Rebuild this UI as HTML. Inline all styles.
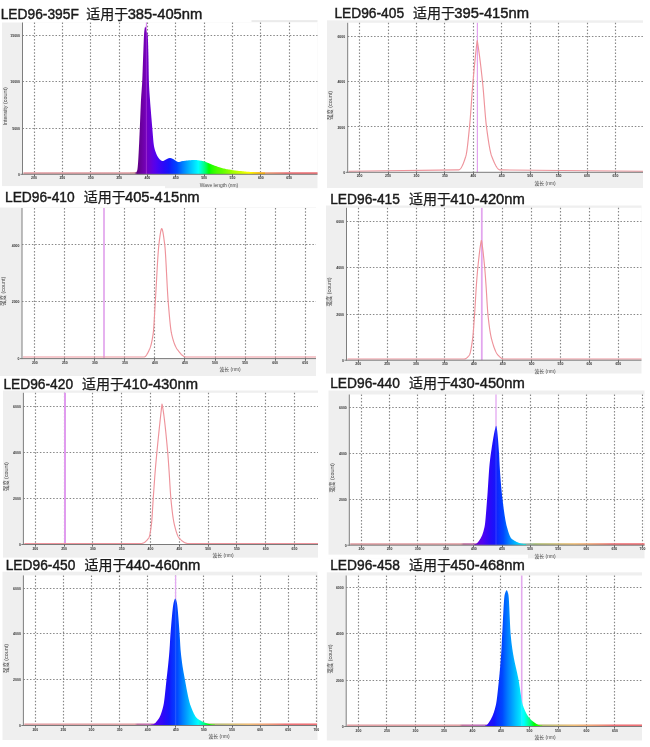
<!DOCTYPE html><html><head><meta charset="utf-8"><style>html,body{margin:0;padding:0;background:#fff;overflow:hidden}svg{display:block}</style></head><body>
<svg width="650" height="747" viewBox="0 0 650 747">
<style>.gd{stroke:#888;stroke-width:1.15;stroke-dasharray:1.5 1.8}.tk{font-family:"Liberation Sans",sans-serif;font-size:3.5px;font-weight:bold;fill:#333}.at{font-family:"Liberation Sans","Noto Sans CJK SC",sans-serif;font-size:4.9px;fill:#4a4a4a}.ax{font-family:"Liberation Sans","Noto Sans CJK SC",sans-serif;font-size:5.4px;fill:#4a4a4a}.tt{font-family:"Liberation Sans","Noto Sans CJK SC",sans-serif;font-size:15.4px;fill:#1a1a1a;stroke:#1a1a1a;stroke-width:0.45}.tc{font-family:"Liberation Sans","Noto Sans CJK SC",sans-serif;font-size:14px;fill:#1a1a1a;stroke:#1a1a1a;stroke-width:0.25}</style>
<defs><linearGradient id="sp0" gradientUnits="userSpaceOnUse" x1="107.71" y1="0" x2="374.2" y2="0"><stop offset="0" stop-color="rgb(212,160,160)"/><stop offset="0.01" stop-color="rgb(212,160,160)"/><stop offset="0.02" stop-color="rgb(212,160,160)"/><stop offset="0.03" stop-color="rgb(212,160,160)"/><stop offset="0.04" stop-color="rgb(212,160,160)"/><stop offset="0.05" stop-color="rgb(212,160,160)"/><stop offset="0.06" stop-color="rgb(212,160,160)"/><stop offset="0.07" stop-color="rgb(212,160,160)"/><stop offset="0.09" stop-color="rgb(212,160,160)"/><stop offset="0.1" stop-color="rgb(212,160,160)"/><stop offset="0.11" stop-color="rgb(95,0,130)"/><stop offset="0.12" stop-color="rgb(102,0,147)"/><stop offset="0.13" stop-color="rgb(109,0,165)"/><stop offset="0.14" stop-color="rgb(116,0,182)"/><stop offset="0.15" stop-color="rgb(110,0,197)"/><stop offset="0.16" stop-color="rgb(104,0,212)"/><stop offset="0.17" stop-color="rgb(94,0,228)"/><stop offset="0.18" stop-color="rgb(82,2,238)"/><stop offset="0.19" stop-color="rgb(68,4,245)"/><stop offset="0.2" stop-color="rgb(55,7,246)"/><stop offset="0.21" stop-color="rgb(42,10,248)"/><stop offset="0.22" stop-color="rgb(31,16,250)"/><stop offset="0.23" stop-color="rgb(20,22,252)"/><stop offset="0.24" stop-color="rgb(11,42,254)"/><stop offset="0.26" stop-color="rgb(0,70,255)"/><stop offset="0.27" stop-color="rgb(0,97,255)"/><stop offset="0.28" stop-color="rgb(0,123,255)"/><stop offset="0.29" stop-color="rgb(0,146,255)"/><stop offset="0.3" stop-color="rgb(0,169,255)"/><stop offset="0.31" stop-color="rgb(0,192,255)"/><stop offset="0.32" stop-color="rgb(0,213,255)"/><stop offset="0.33" stop-color="rgb(0,234,255)"/><stop offset="0.34" stop-color="rgb(0,255,255)"/><stop offset="0.35" stop-color="rgb(0,255,203)"/><stop offset="0.36" stop-color="rgb(0,255,146)"/><stop offset="0.37" stop-color="rgb(0,255,84)"/><stop offset="0.38" stop-color="rgb(0,255,0)"/><stop offset="0.39" stop-color="rgb(31,255,0)"/><stop offset="0.4" stop-color="rgb(54,255,0)"/><stop offset="0.41" stop-color="rgb(74,255,0)"/><stop offset="0.43" stop-color="rgb(94,255,0)"/><stop offset="0.44" stop-color="rgb(112,255,0)"/><stop offset="0.45" stop-color="rgb(129,255,0)"/><stop offset="0.46" stop-color="rgb(146,255,0)"/><stop offset="0.47" stop-color="rgb(163,255,0)"/><stop offset="0.48" stop-color="rgb(179,255,0)"/><stop offset="0.49" stop-color="rgb(195,255,0)"/><stop offset="0.5" stop-color="rgb(210,255,0)"/><stop offset="0.51" stop-color="rgb(225,255,0)"/><stop offset="0.52" stop-color="rgb(240,255,0)"/><stop offset="0.53" stop-color="rgb(255,255,0)"/><stop offset="0.54" stop-color="rgb(255,239,0)"/><stop offset="0.55" stop-color="rgb(255,223,0)"/><stop offset="0.56" stop-color="rgb(255,207,0)"/><stop offset="0.57" stop-color="rgb(255,190,0)"/><stop offset="0.59" stop-color="rgb(255,173,0)"/><stop offset="0.6" stop-color="rgb(255,155,0)"/><stop offset="0.61" stop-color="rgb(255,137,0)"/><stop offset="0.62" stop-color="rgb(255,119,0)"/><stop offset="0.63" stop-color="rgb(255,99,0)"/><stop offset="0.64" stop-color="rgb(255,79,0)"/><stop offset="0.65" stop-color="rgb(255,57,0)"/><stop offset="0.66" stop-color="rgb(255,33,0)"/><stop offset="0.67" stop-color="rgb(255,0,0)"/><stop offset="0.68" stop-color="rgb(255,0,0)"/><stop offset="0.69" stop-color="rgb(255,0,0)"/><stop offset="0.7" stop-color="rgb(255,0,0)"/><stop offset="0.71" stop-color="rgb(255,0,0)"/><stop offset="0.72" stop-color="rgb(255,0,0)"/><stop offset="0.73" stop-color="rgb(255,0,0)"/><stop offset="0.74" stop-color="rgb(255,0,0)"/><stop offset="0.76" stop-color="rgb(255,0,0)"/><stop offset="0.77" stop-color="rgb(255,0,0)"/><stop offset="0.78" stop-color="rgb(255,0,0)"/><stop offset="0.79" stop-color="rgb(255,0,0)"/><stop offset="0.8" stop-color="rgb(246,0,0)"/><stop offset="0.81" stop-color="rgb(237,0,0)"/><stop offset="0.82" stop-color="rgb(228,0,0)"/><stop offset="0.83" stop-color="rgb(219,0,0)"/><stop offset="0.84" stop-color="rgb(209,0,0)"/><stop offset="0.85" stop-color="rgb(200,0,0)"/><stop offset="0.86" stop-color="rgb(190,0,0)"/><stop offset="0.87" stop-color="rgb(181,0,0)"/><stop offset="0.88" stop-color="rgb(171,0,0)"/><stop offset="0.89" stop-color="rgb(161,0,0)"/><stop offset="0.9" stop-color="rgb(151,0,0)"/><stop offset="0.91" stop-color="rgb(141,0,0)"/><stop offset="0.93" stop-color="rgb(130,0,0)"/><stop offset="0.94" stop-color="rgb(119,0,0)"/><stop offset="0.95" stop-color="rgb(109,0,0)"/><stop offset="0.96" stop-color="rgb(97,0,0)"/><stop offset="0.97" stop-color="rgb(200,90,90)"/><stop offset="0.98" stop-color="rgb(200,90,90)"/><stop offset="0.99" stop-color="rgb(200,90,90)"/><stop offset="1" stop-color="rgb(200,90,90)"/></linearGradient><linearGradient id="sp1" gradientUnits="userSpaceOnUse" x1="433.52" y1="0" x2="700.76" y2="0"><stop offset="0" stop-color="rgb(212,160,160)"/><stop offset="0.01" stop-color="rgb(212,160,160)"/><stop offset="0.02" stop-color="rgb(212,160,160)"/><stop offset="0.03" stop-color="rgb(212,160,160)"/><stop offset="0.04" stop-color="rgb(212,160,160)"/><stop offset="0.05" stop-color="rgb(212,160,160)"/><stop offset="0.06" stop-color="rgb(212,160,160)"/><stop offset="0.07" stop-color="rgb(212,160,160)"/><stop offset="0.09" stop-color="rgb(212,160,160)"/><stop offset="0.1" stop-color="rgb(212,160,160)"/><stop offset="0.11" stop-color="rgb(95,0,130)"/><stop offset="0.12" stop-color="rgb(102,0,147)"/><stop offset="0.13" stop-color="rgb(109,0,165)"/><stop offset="0.14" stop-color="rgb(116,0,182)"/><stop offset="0.15" stop-color="rgb(110,0,197)"/><stop offset="0.16" stop-color="rgb(104,0,212)"/><stop offset="0.17" stop-color="rgb(94,0,228)"/><stop offset="0.18" stop-color="rgb(82,2,238)"/><stop offset="0.19" stop-color="rgb(68,4,245)"/><stop offset="0.2" stop-color="rgb(55,7,246)"/><stop offset="0.21" stop-color="rgb(42,10,248)"/><stop offset="0.22" stop-color="rgb(31,16,250)"/><stop offset="0.23" stop-color="rgb(20,22,252)"/><stop offset="0.24" stop-color="rgb(11,42,254)"/><stop offset="0.26" stop-color="rgb(0,70,255)"/><stop offset="0.27" stop-color="rgb(0,97,255)"/><stop offset="0.28" stop-color="rgb(0,123,255)"/><stop offset="0.29" stop-color="rgb(0,146,255)"/><stop offset="0.3" stop-color="rgb(0,169,255)"/><stop offset="0.31" stop-color="rgb(0,192,255)"/><stop offset="0.32" stop-color="rgb(0,213,255)"/><stop offset="0.33" stop-color="rgb(0,234,255)"/><stop offset="0.34" stop-color="rgb(0,255,255)"/><stop offset="0.35" stop-color="rgb(0,255,203)"/><stop offset="0.36" stop-color="rgb(0,255,146)"/><stop offset="0.37" stop-color="rgb(0,255,84)"/><stop offset="0.38" stop-color="rgb(0,255,0)"/><stop offset="0.39" stop-color="rgb(31,255,0)"/><stop offset="0.4" stop-color="rgb(54,255,0)"/><stop offset="0.41" stop-color="rgb(74,255,0)"/><stop offset="0.43" stop-color="rgb(94,255,0)"/><stop offset="0.44" stop-color="rgb(112,255,0)"/><stop offset="0.45" stop-color="rgb(129,255,0)"/><stop offset="0.46" stop-color="rgb(146,255,0)"/><stop offset="0.47" stop-color="rgb(163,255,0)"/><stop offset="0.48" stop-color="rgb(179,255,0)"/><stop offset="0.49" stop-color="rgb(195,255,0)"/><stop offset="0.5" stop-color="rgb(210,255,0)"/><stop offset="0.51" stop-color="rgb(225,255,0)"/><stop offset="0.52" stop-color="rgb(240,255,0)"/><stop offset="0.53" stop-color="rgb(255,255,0)"/><stop offset="0.54" stop-color="rgb(255,239,0)"/><stop offset="0.55" stop-color="rgb(255,223,0)"/><stop offset="0.56" stop-color="rgb(255,207,0)"/><stop offset="0.57" stop-color="rgb(255,190,0)"/><stop offset="0.59" stop-color="rgb(255,173,0)"/><stop offset="0.6" stop-color="rgb(255,155,0)"/><stop offset="0.61" stop-color="rgb(255,137,0)"/><stop offset="0.62" stop-color="rgb(255,119,0)"/><stop offset="0.63" stop-color="rgb(255,99,0)"/><stop offset="0.64" stop-color="rgb(255,79,0)"/><stop offset="0.65" stop-color="rgb(255,57,0)"/><stop offset="0.66" stop-color="rgb(255,33,0)"/><stop offset="0.67" stop-color="rgb(255,0,0)"/><stop offset="0.68" stop-color="rgb(255,0,0)"/><stop offset="0.69" stop-color="rgb(255,0,0)"/><stop offset="0.7" stop-color="rgb(255,0,0)"/><stop offset="0.71" stop-color="rgb(255,0,0)"/><stop offset="0.72" stop-color="rgb(255,0,0)"/><stop offset="0.73" stop-color="rgb(255,0,0)"/><stop offset="0.74" stop-color="rgb(255,0,0)"/><stop offset="0.76" stop-color="rgb(255,0,0)"/><stop offset="0.77" stop-color="rgb(255,0,0)"/><stop offset="0.78" stop-color="rgb(255,0,0)"/><stop offset="0.79" stop-color="rgb(255,0,0)"/><stop offset="0.8" stop-color="rgb(246,0,0)"/><stop offset="0.81" stop-color="rgb(237,0,0)"/><stop offset="0.82" stop-color="rgb(228,0,0)"/><stop offset="0.83" stop-color="rgb(219,0,0)"/><stop offset="0.84" stop-color="rgb(209,0,0)"/><stop offset="0.85" stop-color="rgb(200,0,0)"/><stop offset="0.86" stop-color="rgb(190,0,0)"/><stop offset="0.87" stop-color="rgb(181,0,0)"/><stop offset="0.88" stop-color="rgb(171,0,0)"/><stop offset="0.89" stop-color="rgb(161,0,0)"/><stop offset="0.9" stop-color="rgb(151,0,0)"/><stop offset="0.91" stop-color="rgb(141,0,0)"/><stop offset="0.93" stop-color="rgb(130,0,0)"/><stop offset="0.94" stop-color="rgb(119,0,0)"/><stop offset="0.95" stop-color="rgb(109,0,0)"/><stop offset="0.96" stop-color="rgb(97,0,0)"/><stop offset="0.97" stop-color="rgb(200,90,90)"/><stop offset="0.98" stop-color="rgb(200,90,90)"/><stop offset="0.99" stop-color="rgb(200,90,90)"/><stop offset="1" stop-color="rgb(200,90,90)"/></linearGradient><linearGradient id="sp2" gradientUnits="userSpaceOnUse" x1="112.9" y1="0" x2="395.28" y2="0"><stop offset="0" stop-color="rgb(212,160,160)"/><stop offset="0.01" stop-color="rgb(212,160,160)"/><stop offset="0.02" stop-color="rgb(212,160,160)"/><stop offset="0.03" stop-color="rgb(212,160,160)"/><stop offset="0.04" stop-color="rgb(212,160,160)"/><stop offset="0.05" stop-color="rgb(212,160,160)"/><stop offset="0.06" stop-color="rgb(212,160,160)"/><stop offset="0.07" stop-color="rgb(212,160,160)"/><stop offset="0.09" stop-color="rgb(212,160,160)"/><stop offset="0.1" stop-color="rgb(212,160,160)"/><stop offset="0.11" stop-color="rgb(95,0,130)"/><stop offset="0.12" stop-color="rgb(102,0,147)"/><stop offset="0.13" stop-color="rgb(109,0,165)"/><stop offset="0.14" stop-color="rgb(116,0,182)"/><stop offset="0.15" stop-color="rgb(110,0,197)"/><stop offset="0.16" stop-color="rgb(104,0,212)"/><stop offset="0.17" stop-color="rgb(94,0,228)"/><stop offset="0.18" stop-color="rgb(82,2,238)"/><stop offset="0.19" stop-color="rgb(68,4,245)"/><stop offset="0.2" stop-color="rgb(55,7,246)"/><stop offset="0.21" stop-color="rgb(42,10,248)"/><stop offset="0.22" stop-color="rgb(31,16,250)"/><stop offset="0.23" stop-color="rgb(20,22,252)"/><stop offset="0.24" stop-color="rgb(11,42,254)"/><stop offset="0.26" stop-color="rgb(0,70,255)"/><stop offset="0.27" stop-color="rgb(0,97,255)"/><stop offset="0.28" stop-color="rgb(0,123,255)"/><stop offset="0.29" stop-color="rgb(0,146,255)"/><stop offset="0.3" stop-color="rgb(0,169,255)"/><stop offset="0.31" stop-color="rgb(0,192,255)"/><stop offset="0.32" stop-color="rgb(0,213,255)"/><stop offset="0.33" stop-color="rgb(0,234,255)"/><stop offset="0.34" stop-color="rgb(0,255,255)"/><stop offset="0.35" stop-color="rgb(0,255,203)"/><stop offset="0.36" stop-color="rgb(0,255,146)"/><stop offset="0.37" stop-color="rgb(0,255,84)"/><stop offset="0.38" stop-color="rgb(0,255,0)"/><stop offset="0.39" stop-color="rgb(31,255,0)"/><stop offset="0.4" stop-color="rgb(54,255,0)"/><stop offset="0.41" stop-color="rgb(74,255,0)"/><stop offset="0.43" stop-color="rgb(94,255,0)"/><stop offset="0.44" stop-color="rgb(112,255,0)"/><stop offset="0.45" stop-color="rgb(129,255,0)"/><stop offset="0.46" stop-color="rgb(146,255,0)"/><stop offset="0.47" stop-color="rgb(163,255,0)"/><stop offset="0.48" stop-color="rgb(179,255,0)"/><stop offset="0.49" stop-color="rgb(195,255,0)"/><stop offset="0.5" stop-color="rgb(210,255,0)"/><stop offset="0.51" stop-color="rgb(225,255,0)"/><stop offset="0.52" stop-color="rgb(240,255,0)"/><stop offset="0.53" stop-color="rgb(255,255,0)"/><stop offset="0.54" stop-color="rgb(255,239,0)"/><stop offset="0.55" stop-color="rgb(255,223,0)"/><stop offset="0.56" stop-color="rgb(255,207,0)"/><stop offset="0.57" stop-color="rgb(255,190,0)"/><stop offset="0.59" stop-color="rgb(255,173,0)"/><stop offset="0.6" stop-color="rgb(255,155,0)"/><stop offset="0.61" stop-color="rgb(255,137,0)"/><stop offset="0.62" stop-color="rgb(255,119,0)"/><stop offset="0.63" stop-color="rgb(255,99,0)"/><stop offset="0.64" stop-color="rgb(255,79,0)"/><stop offset="0.65" stop-color="rgb(255,57,0)"/><stop offset="0.66" stop-color="rgb(255,33,0)"/><stop offset="0.67" stop-color="rgb(255,0,0)"/><stop offset="0.68" stop-color="rgb(255,0,0)"/><stop offset="0.69" stop-color="rgb(255,0,0)"/><stop offset="0.7" stop-color="rgb(255,0,0)"/><stop offset="0.71" stop-color="rgb(255,0,0)"/><stop offset="0.72" stop-color="rgb(255,0,0)"/><stop offset="0.73" stop-color="rgb(255,0,0)"/><stop offset="0.74" stop-color="rgb(255,0,0)"/><stop offset="0.76" stop-color="rgb(255,0,0)"/><stop offset="0.77" stop-color="rgb(255,0,0)"/><stop offset="0.78" stop-color="rgb(255,0,0)"/><stop offset="0.79" stop-color="rgb(255,0,0)"/><stop offset="0.8" stop-color="rgb(246,0,0)"/><stop offset="0.81" stop-color="rgb(237,0,0)"/><stop offset="0.82" stop-color="rgb(228,0,0)"/><stop offset="0.83" stop-color="rgb(219,0,0)"/><stop offset="0.84" stop-color="rgb(209,0,0)"/><stop offset="0.85" stop-color="rgb(200,0,0)"/><stop offset="0.86" stop-color="rgb(190,0,0)"/><stop offset="0.87" stop-color="rgb(181,0,0)"/><stop offset="0.88" stop-color="rgb(171,0,0)"/><stop offset="0.89" stop-color="rgb(161,0,0)"/><stop offset="0.9" stop-color="rgb(151,0,0)"/><stop offset="0.91" stop-color="rgb(141,0,0)"/><stop offset="0.93" stop-color="rgb(130,0,0)"/><stop offset="0.94" stop-color="rgb(119,0,0)"/><stop offset="0.95" stop-color="rgb(109,0,0)"/><stop offset="0.96" stop-color="rgb(97,0,0)"/><stop offset="0.97" stop-color="rgb(200,90,90)"/><stop offset="0.98" stop-color="rgb(200,90,90)"/><stop offset="0.99" stop-color="rgb(200,90,90)"/><stop offset="1" stop-color="rgb(200,90,90)"/></linearGradient><linearGradient id="sp3" gradientUnits="userSpaceOnUse" x1="433.34" y1="0" x2="705" y2="0"><stop offset="0" stop-color="rgb(212,160,160)"/><stop offset="0.01" stop-color="rgb(212,160,160)"/><stop offset="0.02" stop-color="rgb(212,160,160)"/><stop offset="0.03" stop-color="rgb(212,160,160)"/><stop offset="0.04" stop-color="rgb(212,160,160)"/><stop offset="0.05" stop-color="rgb(212,160,160)"/><stop offset="0.06" stop-color="rgb(212,160,160)"/><stop offset="0.07" stop-color="rgb(212,160,160)"/><stop offset="0.09" stop-color="rgb(212,160,160)"/><stop offset="0.1" stop-color="rgb(212,160,160)"/><stop offset="0.11" stop-color="rgb(95,0,130)"/><stop offset="0.12" stop-color="rgb(102,0,147)"/><stop offset="0.13" stop-color="rgb(109,0,165)"/><stop offset="0.14" stop-color="rgb(116,0,182)"/><stop offset="0.15" stop-color="rgb(110,0,197)"/><stop offset="0.16" stop-color="rgb(104,0,212)"/><stop offset="0.17" stop-color="rgb(94,0,228)"/><stop offset="0.18" stop-color="rgb(82,2,238)"/><stop offset="0.19" stop-color="rgb(68,4,245)"/><stop offset="0.2" stop-color="rgb(55,7,246)"/><stop offset="0.21" stop-color="rgb(42,10,248)"/><stop offset="0.22" stop-color="rgb(31,16,250)"/><stop offset="0.23" stop-color="rgb(20,22,252)"/><stop offset="0.24" stop-color="rgb(11,42,254)"/><stop offset="0.26" stop-color="rgb(0,70,255)"/><stop offset="0.27" stop-color="rgb(0,97,255)"/><stop offset="0.28" stop-color="rgb(0,123,255)"/><stop offset="0.29" stop-color="rgb(0,146,255)"/><stop offset="0.3" stop-color="rgb(0,169,255)"/><stop offset="0.31" stop-color="rgb(0,192,255)"/><stop offset="0.32" stop-color="rgb(0,213,255)"/><stop offset="0.33" stop-color="rgb(0,234,255)"/><stop offset="0.34" stop-color="rgb(0,255,255)"/><stop offset="0.35" stop-color="rgb(0,255,203)"/><stop offset="0.36" stop-color="rgb(0,255,146)"/><stop offset="0.37" stop-color="rgb(0,255,84)"/><stop offset="0.38" stop-color="rgb(0,255,0)"/><stop offset="0.39" stop-color="rgb(31,255,0)"/><stop offset="0.4" stop-color="rgb(54,255,0)"/><stop offset="0.41" stop-color="rgb(74,255,0)"/><stop offset="0.43" stop-color="rgb(94,255,0)"/><stop offset="0.44" stop-color="rgb(112,255,0)"/><stop offset="0.45" stop-color="rgb(129,255,0)"/><stop offset="0.46" stop-color="rgb(146,255,0)"/><stop offset="0.47" stop-color="rgb(163,255,0)"/><stop offset="0.48" stop-color="rgb(179,255,0)"/><stop offset="0.49" stop-color="rgb(195,255,0)"/><stop offset="0.5" stop-color="rgb(210,255,0)"/><stop offset="0.51" stop-color="rgb(225,255,0)"/><stop offset="0.52" stop-color="rgb(240,255,0)"/><stop offset="0.53" stop-color="rgb(255,255,0)"/><stop offset="0.54" stop-color="rgb(255,239,0)"/><stop offset="0.55" stop-color="rgb(255,223,0)"/><stop offset="0.56" stop-color="rgb(255,207,0)"/><stop offset="0.57" stop-color="rgb(255,190,0)"/><stop offset="0.59" stop-color="rgb(255,173,0)"/><stop offset="0.6" stop-color="rgb(255,155,0)"/><stop offset="0.61" stop-color="rgb(255,137,0)"/><stop offset="0.62" stop-color="rgb(255,119,0)"/><stop offset="0.63" stop-color="rgb(255,99,0)"/><stop offset="0.64" stop-color="rgb(255,79,0)"/><stop offset="0.65" stop-color="rgb(255,57,0)"/><stop offset="0.66" stop-color="rgb(255,33,0)"/><stop offset="0.67" stop-color="rgb(255,0,0)"/><stop offset="0.68" stop-color="rgb(255,0,0)"/><stop offset="0.69" stop-color="rgb(255,0,0)"/><stop offset="0.7" stop-color="rgb(255,0,0)"/><stop offset="0.71" stop-color="rgb(255,0,0)"/><stop offset="0.72" stop-color="rgb(255,0,0)"/><stop offset="0.73" stop-color="rgb(255,0,0)"/><stop offset="0.74" stop-color="rgb(255,0,0)"/><stop offset="0.76" stop-color="rgb(255,0,0)"/><stop offset="0.77" stop-color="rgb(255,0,0)"/><stop offset="0.78" stop-color="rgb(255,0,0)"/><stop offset="0.79" stop-color="rgb(255,0,0)"/><stop offset="0.8" stop-color="rgb(246,0,0)"/><stop offset="0.81" stop-color="rgb(237,0,0)"/><stop offset="0.82" stop-color="rgb(228,0,0)"/><stop offset="0.83" stop-color="rgb(219,0,0)"/><stop offset="0.84" stop-color="rgb(209,0,0)"/><stop offset="0.85" stop-color="rgb(200,0,0)"/><stop offset="0.86" stop-color="rgb(190,0,0)"/><stop offset="0.87" stop-color="rgb(181,0,0)"/><stop offset="0.88" stop-color="rgb(171,0,0)"/><stop offset="0.89" stop-color="rgb(161,0,0)"/><stop offset="0.9" stop-color="rgb(151,0,0)"/><stop offset="0.91" stop-color="rgb(141,0,0)"/><stop offset="0.93" stop-color="rgb(130,0,0)"/><stop offset="0.94" stop-color="rgb(119,0,0)"/><stop offset="0.95" stop-color="rgb(109,0,0)"/><stop offset="0.96" stop-color="rgb(97,0,0)"/><stop offset="0.97" stop-color="rgb(200,90,90)"/><stop offset="0.98" stop-color="rgb(200,90,90)"/><stop offset="0.99" stop-color="rgb(200,90,90)"/><stop offset="1" stop-color="rgb(200,90,90)"/></linearGradient><linearGradient id="sp4" gradientUnits="userSpaceOnUse" x1="110.18" y1="0" x2="380.9" y2="0"><stop offset="0" stop-color="rgb(212,160,160)"/><stop offset="0.01" stop-color="rgb(212,160,160)"/><stop offset="0.02" stop-color="rgb(212,160,160)"/><stop offset="0.03" stop-color="rgb(212,160,160)"/><stop offset="0.04" stop-color="rgb(212,160,160)"/><stop offset="0.05" stop-color="rgb(212,160,160)"/><stop offset="0.06" stop-color="rgb(212,160,160)"/><stop offset="0.07" stop-color="rgb(212,160,160)"/><stop offset="0.09" stop-color="rgb(212,160,160)"/><stop offset="0.1" stop-color="rgb(212,160,160)"/><stop offset="0.11" stop-color="rgb(95,0,130)"/><stop offset="0.12" stop-color="rgb(102,0,147)"/><stop offset="0.13" stop-color="rgb(109,0,165)"/><stop offset="0.14" stop-color="rgb(116,0,182)"/><stop offset="0.15" stop-color="rgb(110,0,197)"/><stop offset="0.16" stop-color="rgb(104,0,212)"/><stop offset="0.17" stop-color="rgb(94,0,228)"/><stop offset="0.18" stop-color="rgb(82,2,238)"/><stop offset="0.19" stop-color="rgb(68,4,245)"/><stop offset="0.2" stop-color="rgb(55,7,246)"/><stop offset="0.21" stop-color="rgb(42,10,248)"/><stop offset="0.22" stop-color="rgb(31,16,250)"/><stop offset="0.23" stop-color="rgb(20,22,252)"/><stop offset="0.24" stop-color="rgb(11,42,254)"/><stop offset="0.26" stop-color="rgb(0,70,255)"/><stop offset="0.27" stop-color="rgb(0,97,255)"/><stop offset="0.28" stop-color="rgb(0,123,255)"/><stop offset="0.29" stop-color="rgb(0,146,255)"/><stop offset="0.3" stop-color="rgb(0,169,255)"/><stop offset="0.31" stop-color="rgb(0,192,255)"/><stop offset="0.32" stop-color="rgb(0,213,255)"/><stop offset="0.33" stop-color="rgb(0,234,255)"/><stop offset="0.34" stop-color="rgb(0,255,255)"/><stop offset="0.35" stop-color="rgb(0,255,203)"/><stop offset="0.36" stop-color="rgb(0,255,146)"/><stop offset="0.37" stop-color="rgb(0,255,84)"/><stop offset="0.38" stop-color="rgb(0,255,0)"/><stop offset="0.39" stop-color="rgb(31,255,0)"/><stop offset="0.4" stop-color="rgb(54,255,0)"/><stop offset="0.41" stop-color="rgb(74,255,0)"/><stop offset="0.43" stop-color="rgb(94,255,0)"/><stop offset="0.44" stop-color="rgb(112,255,0)"/><stop offset="0.45" stop-color="rgb(129,255,0)"/><stop offset="0.46" stop-color="rgb(146,255,0)"/><stop offset="0.47" stop-color="rgb(163,255,0)"/><stop offset="0.48" stop-color="rgb(179,255,0)"/><stop offset="0.49" stop-color="rgb(195,255,0)"/><stop offset="0.5" stop-color="rgb(210,255,0)"/><stop offset="0.51" stop-color="rgb(225,255,0)"/><stop offset="0.52" stop-color="rgb(240,255,0)"/><stop offset="0.53" stop-color="rgb(255,255,0)"/><stop offset="0.54" stop-color="rgb(255,239,0)"/><stop offset="0.55" stop-color="rgb(255,223,0)"/><stop offset="0.56" stop-color="rgb(255,207,0)"/><stop offset="0.57" stop-color="rgb(255,190,0)"/><stop offset="0.59" stop-color="rgb(255,173,0)"/><stop offset="0.6" stop-color="rgb(255,155,0)"/><stop offset="0.61" stop-color="rgb(255,137,0)"/><stop offset="0.62" stop-color="rgb(255,119,0)"/><stop offset="0.63" stop-color="rgb(255,99,0)"/><stop offset="0.64" stop-color="rgb(255,79,0)"/><stop offset="0.65" stop-color="rgb(255,57,0)"/><stop offset="0.66" stop-color="rgb(255,33,0)"/><stop offset="0.67" stop-color="rgb(255,0,0)"/><stop offset="0.68" stop-color="rgb(255,0,0)"/><stop offset="0.69" stop-color="rgb(255,0,0)"/><stop offset="0.7" stop-color="rgb(255,0,0)"/><stop offset="0.71" stop-color="rgb(255,0,0)"/><stop offset="0.72" stop-color="rgb(255,0,0)"/><stop offset="0.73" stop-color="rgb(255,0,0)"/><stop offset="0.74" stop-color="rgb(255,0,0)"/><stop offset="0.76" stop-color="rgb(255,0,0)"/><stop offset="0.77" stop-color="rgb(255,0,0)"/><stop offset="0.78" stop-color="rgb(255,0,0)"/><stop offset="0.79" stop-color="rgb(255,0,0)"/><stop offset="0.8" stop-color="rgb(246,0,0)"/><stop offset="0.81" stop-color="rgb(237,0,0)"/><stop offset="0.82" stop-color="rgb(228,0,0)"/><stop offset="0.83" stop-color="rgb(219,0,0)"/><stop offset="0.84" stop-color="rgb(209,0,0)"/><stop offset="0.85" stop-color="rgb(200,0,0)"/><stop offset="0.86" stop-color="rgb(190,0,0)"/><stop offset="0.87" stop-color="rgb(181,0,0)"/><stop offset="0.88" stop-color="rgb(171,0,0)"/><stop offset="0.89" stop-color="rgb(161,0,0)"/><stop offset="0.9" stop-color="rgb(151,0,0)"/><stop offset="0.91" stop-color="rgb(141,0,0)"/><stop offset="0.93" stop-color="rgb(130,0,0)"/><stop offset="0.94" stop-color="rgb(119,0,0)"/><stop offset="0.95" stop-color="rgb(109,0,0)"/><stop offset="0.96" stop-color="rgb(97,0,0)"/><stop offset="0.97" stop-color="rgb(200,90,90)"/><stop offset="0.98" stop-color="rgb(200,90,90)"/><stop offset="0.99" stop-color="rgb(200,90,90)"/><stop offset="1" stop-color="rgb(200,90,90)"/></linearGradient><linearGradient id="sp5" gradientUnits="userSpaceOnUse" x1="434.56" y1="0" x2="698.7" y2="0"><stop offset="0" stop-color="rgb(212,160,160)"/><stop offset="0.01" stop-color="rgb(212,160,160)"/><stop offset="0.02" stop-color="rgb(212,160,160)"/><stop offset="0.03" stop-color="rgb(212,160,160)"/><stop offset="0.04" stop-color="rgb(212,160,160)"/><stop offset="0.05" stop-color="rgb(212,160,160)"/><stop offset="0.06" stop-color="rgb(212,160,160)"/><stop offset="0.07" stop-color="rgb(212,160,160)"/><stop offset="0.09" stop-color="rgb(212,160,160)"/><stop offset="0.1" stop-color="rgb(212,160,160)"/><stop offset="0.11" stop-color="rgb(95,0,130)"/><stop offset="0.12" stop-color="rgb(102,0,147)"/><stop offset="0.13" stop-color="rgb(109,0,165)"/><stop offset="0.14" stop-color="rgb(116,0,182)"/><stop offset="0.15" stop-color="rgb(110,0,197)"/><stop offset="0.16" stop-color="rgb(104,0,212)"/><stop offset="0.17" stop-color="rgb(94,0,228)"/><stop offset="0.18" stop-color="rgb(82,2,238)"/><stop offset="0.19" stop-color="rgb(68,4,245)"/><stop offset="0.2" stop-color="rgb(55,7,246)"/><stop offset="0.21" stop-color="rgb(42,10,248)"/><stop offset="0.22" stop-color="rgb(31,16,250)"/><stop offset="0.23" stop-color="rgb(20,22,252)"/><stop offset="0.24" stop-color="rgb(11,42,254)"/><stop offset="0.26" stop-color="rgb(0,70,255)"/><stop offset="0.27" stop-color="rgb(0,97,255)"/><stop offset="0.28" stop-color="rgb(0,123,255)"/><stop offset="0.29" stop-color="rgb(0,146,255)"/><stop offset="0.3" stop-color="rgb(0,169,255)"/><stop offset="0.31" stop-color="rgb(0,192,255)"/><stop offset="0.32" stop-color="rgb(0,213,255)"/><stop offset="0.33" stop-color="rgb(0,234,255)"/><stop offset="0.34" stop-color="rgb(0,255,255)"/><stop offset="0.35" stop-color="rgb(0,255,203)"/><stop offset="0.36" stop-color="rgb(0,255,146)"/><stop offset="0.37" stop-color="rgb(0,255,84)"/><stop offset="0.38" stop-color="rgb(0,255,0)"/><stop offset="0.39" stop-color="rgb(31,255,0)"/><stop offset="0.4" stop-color="rgb(54,255,0)"/><stop offset="0.41" stop-color="rgb(74,255,0)"/><stop offset="0.43" stop-color="rgb(94,255,0)"/><stop offset="0.44" stop-color="rgb(112,255,0)"/><stop offset="0.45" stop-color="rgb(129,255,0)"/><stop offset="0.46" stop-color="rgb(146,255,0)"/><stop offset="0.47" stop-color="rgb(163,255,0)"/><stop offset="0.48" stop-color="rgb(179,255,0)"/><stop offset="0.49" stop-color="rgb(195,255,0)"/><stop offset="0.5" stop-color="rgb(210,255,0)"/><stop offset="0.51" stop-color="rgb(225,255,0)"/><stop offset="0.52" stop-color="rgb(240,255,0)"/><stop offset="0.53" stop-color="rgb(255,255,0)"/><stop offset="0.54" stop-color="rgb(255,239,0)"/><stop offset="0.55" stop-color="rgb(255,223,0)"/><stop offset="0.56" stop-color="rgb(255,207,0)"/><stop offset="0.57" stop-color="rgb(255,190,0)"/><stop offset="0.59" stop-color="rgb(255,173,0)"/><stop offset="0.6" stop-color="rgb(255,155,0)"/><stop offset="0.61" stop-color="rgb(255,137,0)"/><stop offset="0.62" stop-color="rgb(255,119,0)"/><stop offset="0.63" stop-color="rgb(255,99,0)"/><stop offset="0.64" stop-color="rgb(255,79,0)"/><stop offset="0.65" stop-color="rgb(255,57,0)"/><stop offset="0.66" stop-color="rgb(255,33,0)"/><stop offset="0.67" stop-color="rgb(255,0,0)"/><stop offset="0.68" stop-color="rgb(255,0,0)"/><stop offset="0.69" stop-color="rgb(255,0,0)"/><stop offset="0.7" stop-color="rgb(255,0,0)"/><stop offset="0.71" stop-color="rgb(255,0,0)"/><stop offset="0.72" stop-color="rgb(255,0,0)"/><stop offset="0.73" stop-color="rgb(255,0,0)"/><stop offset="0.74" stop-color="rgb(255,0,0)"/><stop offset="0.76" stop-color="rgb(255,0,0)"/><stop offset="0.77" stop-color="rgb(255,0,0)"/><stop offset="0.78" stop-color="rgb(255,0,0)"/><stop offset="0.79" stop-color="rgb(255,0,0)"/><stop offset="0.8" stop-color="rgb(246,0,0)"/><stop offset="0.81" stop-color="rgb(237,0,0)"/><stop offset="0.82" stop-color="rgb(228,0,0)"/><stop offset="0.83" stop-color="rgb(219,0,0)"/><stop offset="0.84" stop-color="rgb(209,0,0)"/><stop offset="0.85" stop-color="rgb(200,0,0)"/><stop offset="0.86" stop-color="rgb(190,0,0)"/><stop offset="0.87" stop-color="rgb(181,0,0)"/><stop offset="0.88" stop-color="rgb(171,0,0)"/><stop offset="0.89" stop-color="rgb(161,0,0)"/><stop offset="0.9" stop-color="rgb(151,0,0)"/><stop offset="0.91" stop-color="rgb(141,0,0)"/><stop offset="0.93" stop-color="rgb(130,0,0)"/><stop offset="0.94" stop-color="rgb(119,0,0)"/><stop offset="0.95" stop-color="rgb(109,0,0)"/><stop offset="0.96" stop-color="rgb(97,0,0)"/><stop offset="0.97" stop-color="rgb(200,90,90)"/><stop offset="0.98" stop-color="rgb(200,90,90)"/><stop offset="0.99" stop-color="rgb(200,90,90)"/><stop offset="1" stop-color="rgb(200,90,90)"/></linearGradient><linearGradient id="sp6" gradientUnits="userSpaceOnUse" x1="108.36" y1="0" x2="372.5" y2="0"><stop offset="0" stop-color="rgb(212,160,160)"/><stop offset="0.01" stop-color="rgb(212,160,160)"/><stop offset="0.02" stop-color="rgb(212,160,160)"/><stop offset="0.03" stop-color="rgb(212,160,160)"/><stop offset="0.04" stop-color="rgb(212,160,160)"/><stop offset="0.05" stop-color="rgb(212,160,160)"/><stop offset="0.06" stop-color="rgb(212,160,160)"/><stop offset="0.07" stop-color="rgb(212,160,160)"/><stop offset="0.09" stop-color="rgb(212,160,160)"/><stop offset="0.1" stop-color="rgb(212,160,160)"/><stop offset="0.11" stop-color="rgb(95,0,130)"/><stop offset="0.12" stop-color="rgb(102,0,147)"/><stop offset="0.13" stop-color="rgb(109,0,165)"/><stop offset="0.14" stop-color="rgb(116,0,182)"/><stop offset="0.15" stop-color="rgb(110,0,197)"/><stop offset="0.16" stop-color="rgb(104,0,212)"/><stop offset="0.17" stop-color="rgb(94,0,228)"/><stop offset="0.18" stop-color="rgb(82,2,238)"/><stop offset="0.19" stop-color="rgb(68,4,245)"/><stop offset="0.2" stop-color="rgb(55,7,246)"/><stop offset="0.21" stop-color="rgb(42,10,248)"/><stop offset="0.22" stop-color="rgb(31,16,250)"/><stop offset="0.23" stop-color="rgb(20,22,252)"/><stop offset="0.24" stop-color="rgb(11,42,254)"/><stop offset="0.26" stop-color="rgb(0,70,255)"/><stop offset="0.27" stop-color="rgb(0,97,255)"/><stop offset="0.28" stop-color="rgb(0,123,255)"/><stop offset="0.29" stop-color="rgb(0,146,255)"/><stop offset="0.3" stop-color="rgb(0,169,255)"/><stop offset="0.31" stop-color="rgb(0,192,255)"/><stop offset="0.32" stop-color="rgb(0,213,255)"/><stop offset="0.33" stop-color="rgb(0,234,255)"/><stop offset="0.34" stop-color="rgb(0,255,255)"/><stop offset="0.35" stop-color="rgb(0,255,203)"/><stop offset="0.36" stop-color="rgb(0,255,146)"/><stop offset="0.37" stop-color="rgb(0,255,84)"/><stop offset="0.38" stop-color="rgb(0,255,0)"/><stop offset="0.39" stop-color="rgb(31,255,0)"/><stop offset="0.4" stop-color="rgb(54,255,0)"/><stop offset="0.41" stop-color="rgb(74,255,0)"/><stop offset="0.43" stop-color="rgb(94,255,0)"/><stop offset="0.44" stop-color="rgb(112,255,0)"/><stop offset="0.45" stop-color="rgb(129,255,0)"/><stop offset="0.46" stop-color="rgb(146,255,0)"/><stop offset="0.47" stop-color="rgb(163,255,0)"/><stop offset="0.48" stop-color="rgb(179,255,0)"/><stop offset="0.49" stop-color="rgb(195,255,0)"/><stop offset="0.5" stop-color="rgb(210,255,0)"/><stop offset="0.51" stop-color="rgb(225,255,0)"/><stop offset="0.52" stop-color="rgb(240,255,0)"/><stop offset="0.53" stop-color="rgb(255,255,0)"/><stop offset="0.54" stop-color="rgb(255,239,0)"/><stop offset="0.55" stop-color="rgb(255,223,0)"/><stop offset="0.56" stop-color="rgb(255,207,0)"/><stop offset="0.57" stop-color="rgb(255,190,0)"/><stop offset="0.59" stop-color="rgb(255,173,0)"/><stop offset="0.6" stop-color="rgb(255,155,0)"/><stop offset="0.61" stop-color="rgb(255,137,0)"/><stop offset="0.62" stop-color="rgb(255,119,0)"/><stop offset="0.63" stop-color="rgb(255,99,0)"/><stop offset="0.64" stop-color="rgb(255,79,0)"/><stop offset="0.65" stop-color="rgb(255,57,0)"/><stop offset="0.66" stop-color="rgb(255,33,0)"/><stop offset="0.67" stop-color="rgb(255,0,0)"/><stop offset="0.68" stop-color="rgb(255,0,0)"/><stop offset="0.69" stop-color="rgb(255,0,0)"/><stop offset="0.7" stop-color="rgb(255,0,0)"/><stop offset="0.71" stop-color="rgb(255,0,0)"/><stop offset="0.72" stop-color="rgb(255,0,0)"/><stop offset="0.73" stop-color="rgb(255,0,0)"/><stop offset="0.74" stop-color="rgb(255,0,0)"/><stop offset="0.76" stop-color="rgb(255,0,0)"/><stop offset="0.77" stop-color="rgb(255,0,0)"/><stop offset="0.78" stop-color="rgb(255,0,0)"/><stop offset="0.79" stop-color="rgb(255,0,0)"/><stop offset="0.8" stop-color="rgb(246,0,0)"/><stop offset="0.81" stop-color="rgb(237,0,0)"/><stop offset="0.82" stop-color="rgb(228,0,0)"/><stop offset="0.83" stop-color="rgb(219,0,0)"/><stop offset="0.84" stop-color="rgb(209,0,0)"/><stop offset="0.85" stop-color="rgb(200,0,0)"/><stop offset="0.86" stop-color="rgb(190,0,0)"/><stop offset="0.87" stop-color="rgb(181,0,0)"/><stop offset="0.88" stop-color="rgb(171,0,0)"/><stop offset="0.89" stop-color="rgb(161,0,0)"/><stop offset="0.9" stop-color="rgb(151,0,0)"/><stop offset="0.91" stop-color="rgb(141,0,0)"/><stop offset="0.93" stop-color="rgb(130,0,0)"/><stop offset="0.94" stop-color="rgb(119,0,0)"/><stop offset="0.95" stop-color="rgb(109,0,0)"/><stop offset="0.96" stop-color="rgb(97,0,0)"/><stop offset="0.97" stop-color="rgb(200,90,90)"/><stop offset="0.98" stop-color="rgb(200,90,90)"/><stop offset="0.99" stop-color="rgb(200,90,90)"/><stop offset="1" stop-color="rgb(200,90,90)"/></linearGradient><linearGradient id="sp7" gradientUnits="userSpaceOnUse" x1="432.6" y1="0" x2="700.5" y2="0"><stop offset="0" stop-color="rgb(212,160,160)"/><stop offset="0.01" stop-color="rgb(212,160,160)"/><stop offset="0.02" stop-color="rgb(212,160,160)"/><stop offset="0.03" stop-color="rgb(212,160,160)"/><stop offset="0.04" stop-color="rgb(212,160,160)"/><stop offset="0.05" stop-color="rgb(212,160,160)"/><stop offset="0.06" stop-color="rgb(212,160,160)"/><stop offset="0.07" stop-color="rgb(212,160,160)"/><stop offset="0.09" stop-color="rgb(212,160,160)"/><stop offset="0.1" stop-color="rgb(212,160,160)"/><stop offset="0.11" stop-color="rgb(95,0,130)"/><stop offset="0.12" stop-color="rgb(102,0,147)"/><stop offset="0.13" stop-color="rgb(109,0,165)"/><stop offset="0.14" stop-color="rgb(116,0,182)"/><stop offset="0.15" stop-color="rgb(110,0,197)"/><stop offset="0.16" stop-color="rgb(104,0,212)"/><stop offset="0.17" stop-color="rgb(94,0,228)"/><stop offset="0.18" stop-color="rgb(82,2,238)"/><stop offset="0.19" stop-color="rgb(68,4,245)"/><stop offset="0.2" stop-color="rgb(55,7,246)"/><stop offset="0.21" stop-color="rgb(42,10,248)"/><stop offset="0.22" stop-color="rgb(31,16,250)"/><stop offset="0.23" stop-color="rgb(20,22,252)"/><stop offset="0.24" stop-color="rgb(11,42,254)"/><stop offset="0.26" stop-color="rgb(0,70,255)"/><stop offset="0.27" stop-color="rgb(0,97,255)"/><stop offset="0.28" stop-color="rgb(0,123,255)"/><stop offset="0.29" stop-color="rgb(0,146,255)"/><stop offset="0.3" stop-color="rgb(0,169,255)"/><stop offset="0.31" stop-color="rgb(0,192,255)"/><stop offset="0.32" stop-color="rgb(0,213,255)"/><stop offset="0.33" stop-color="rgb(0,234,255)"/><stop offset="0.34" stop-color="rgb(0,255,255)"/><stop offset="0.35" stop-color="rgb(0,255,203)"/><stop offset="0.36" stop-color="rgb(0,255,146)"/><stop offset="0.37" stop-color="rgb(0,255,84)"/><stop offset="0.38" stop-color="rgb(0,255,0)"/><stop offset="0.39" stop-color="rgb(31,255,0)"/><stop offset="0.4" stop-color="rgb(54,255,0)"/><stop offset="0.41" stop-color="rgb(74,255,0)"/><stop offset="0.43" stop-color="rgb(94,255,0)"/><stop offset="0.44" stop-color="rgb(112,255,0)"/><stop offset="0.45" stop-color="rgb(129,255,0)"/><stop offset="0.46" stop-color="rgb(146,255,0)"/><stop offset="0.47" stop-color="rgb(163,255,0)"/><stop offset="0.48" stop-color="rgb(179,255,0)"/><stop offset="0.49" stop-color="rgb(195,255,0)"/><stop offset="0.5" stop-color="rgb(210,255,0)"/><stop offset="0.51" stop-color="rgb(225,255,0)"/><stop offset="0.52" stop-color="rgb(240,255,0)"/><stop offset="0.53" stop-color="rgb(255,255,0)"/><stop offset="0.54" stop-color="rgb(255,239,0)"/><stop offset="0.55" stop-color="rgb(255,223,0)"/><stop offset="0.56" stop-color="rgb(255,207,0)"/><stop offset="0.57" stop-color="rgb(255,190,0)"/><stop offset="0.59" stop-color="rgb(255,173,0)"/><stop offset="0.6" stop-color="rgb(255,155,0)"/><stop offset="0.61" stop-color="rgb(255,137,0)"/><stop offset="0.62" stop-color="rgb(255,119,0)"/><stop offset="0.63" stop-color="rgb(255,99,0)"/><stop offset="0.64" stop-color="rgb(255,79,0)"/><stop offset="0.65" stop-color="rgb(255,57,0)"/><stop offset="0.66" stop-color="rgb(255,33,0)"/><stop offset="0.67" stop-color="rgb(255,0,0)"/><stop offset="0.68" stop-color="rgb(255,0,0)"/><stop offset="0.69" stop-color="rgb(255,0,0)"/><stop offset="0.7" stop-color="rgb(255,0,0)"/><stop offset="0.71" stop-color="rgb(255,0,0)"/><stop offset="0.72" stop-color="rgb(255,0,0)"/><stop offset="0.73" stop-color="rgb(255,0,0)"/><stop offset="0.74" stop-color="rgb(255,0,0)"/><stop offset="0.76" stop-color="rgb(255,0,0)"/><stop offset="0.77" stop-color="rgb(255,0,0)"/><stop offset="0.78" stop-color="rgb(255,0,0)"/><stop offset="0.79" stop-color="rgb(255,0,0)"/><stop offset="0.8" stop-color="rgb(246,0,0)"/><stop offset="0.81" stop-color="rgb(237,0,0)"/><stop offset="0.82" stop-color="rgb(228,0,0)"/><stop offset="0.83" stop-color="rgb(219,0,0)"/><stop offset="0.84" stop-color="rgb(209,0,0)"/><stop offset="0.85" stop-color="rgb(200,0,0)"/><stop offset="0.86" stop-color="rgb(190,0,0)"/><stop offset="0.87" stop-color="rgb(181,0,0)"/><stop offset="0.88" stop-color="rgb(171,0,0)"/><stop offset="0.89" stop-color="rgb(161,0,0)"/><stop offset="0.9" stop-color="rgb(151,0,0)"/><stop offset="0.91" stop-color="rgb(141,0,0)"/><stop offset="0.93" stop-color="rgb(130,0,0)"/><stop offset="0.94" stop-color="rgb(119,0,0)"/><stop offset="0.95" stop-color="rgb(109,0,0)"/><stop offset="0.96" stop-color="rgb(97,0,0)"/><stop offset="0.97" stop-color="rgb(200,90,90)"/><stop offset="0.98" stop-color="rgb(200,90,90)"/><stop offset="0.99" stop-color="rgb(200,90,90)"/><stop offset="1" stop-color="rgb(200,90,90)"/></linearGradient></defs>
<rect x="2" y="22.5" width="315.5" height="165.7" fill="#efefef"/>
<rect x="251.5" y="20.3" width="66" height="1.5" fill="#e6e6e6"/>
<rect x="22.5" y="22.5" width="295" height="151.8" fill="#fff"/>
<line x1="22.5" y1="35.5" x2="317.5" y2="35.5" class="gd"/>
<line x1="22.5" y1="81.5" x2="317.5" y2="81.5" class="gd"/>
<line x1="22.5" y1="128.5" x2="317.5" y2="128.5" class="gd"/>
<line x1="34.5" y1="22.5" x2="34.5" y2="174.3" class="gd"/>
<line x1="62.5" y1="22.5" x2="62.5" y2="174.3" class="gd"/>
<line x1="90.5" y1="22.5" x2="90.5" y2="174.3" class="gd"/>
<line x1="119.5" y1="22.5" x2="119.5" y2="174.3" class="gd"/>
<line x1="147.5" y1="22.5" x2="147.5" y2="174.3" class="gd"/>
<line x1="175.5" y1="22.5" x2="175.5" y2="174.3" class="gd"/>
<line x1="204.5" y1="22.5" x2="204.5" y2="174.3" class="gd"/>
<line x1="232.5" y1="22.5" x2="232.5" y2="174.3" class="gd"/>
<line x1="260.5" y1="22.5" x2="260.5" y2="174.3" class="gd"/>
<line x1="289.5" y1="22.5" x2="289.5" y2="174.3" class="gd"/>
<line x1="146.4" y1="22.5" x2="146.4" y2="174.3" stroke="#d890ee" stroke-width="1.0"/>
<line x1="23.5" y1="173.2" x2="317.5" y2="173.2" stroke="#e8a2a8" stroke-width="1.7"/>
<rect x="23.5" y="172.3" width="294" height="2" fill="url(#sp0)" opacity="0.3"/>
<path d="M130,172.6 L130.32,172.58 L130.75,172.56 L131.26,172.53 L131.83,172.49 L132.42,172.45 L133,172.41 L133.53,172.36 L134,172.3 L134.41,172.27 L134.8,172.27 L135.18,172.28 L135.53,172.28 L135.86,172.24 L136.17,172.13 L136.45,171.92 L136.7,171.6 L136.91,171.21 L137.09,170.79 L137.23,170.32 L137.36,169.76 L137.47,169.08 L137.57,168.25 L137.68,167.23 L137.8,166 L137.93,164.54 L138.06,162.87 L138.18,161.02 L138.31,159.01 L138.43,156.88 L138.55,154.65 L138.68,152.35 L138.8,150 L138.92,147.6 L139.05,145.11 L139.17,142.53 L139.29,139.86 L139.41,137.1 L139.54,134.24 L139.67,131.27 L139.8,128.2 L139.94,124.91 L140.09,121.37 L140.24,117.67 L140.39,113.89 L140.54,110.15 L140.7,106.52 L140.85,103.1 L141,100 L141.15,97.28 L141.3,94.88 L141.46,92.7 L141.61,90.64 L141.76,88.6 L141.91,86.46 L142.06,84.13 L142.2,81.5 L142.34,78.52 L142.47,75.28 L142.6,71.85 L142.72,68.33 L142.85,64.79 L142.97,61.33 L143.09,58.04 L143.2,55 L143.31,52.12 L143.42,49.28 L143.52,46.53 L143.62,43.89 L143.72,41.41 L143.82,39.12 L143.91,37.07 L144,35.3 L144.08,33.84 L144.16,32.69 L144.24,31.78 L144.31,31.06 L144.38,30.48 L144.45,29.98 L144.53,29.5 L144.6,29 L144.67,28.5 L144.75,28.06 L144.82,27.69 L144.89,27.38 L144.97,27.12 L145.04,26.93 L145.12,26.79 L145.2,26.7 L145.28,26.67 L145.37,26.71 L145.46,26.81 L145.54,26.96 L145.63,27.16 L145.72,27.4 L145.81,27.68 L145.9,28 L145.98,28.38 L146.07,28.83 L146.14,29.33 L146.22,29.88 L146.31,30.43 L146.4,30.99 L146.49,31.52 L146.6,32 L146.72,32.33 L146.86,32.49 L147,32.57 L147.15,32.67 L147.3,32.89 L147.44,33.34 L147.58,34.11 L147.7,35.3 L147.81,36.93 L147.91,38.91 L148,41.19 L148.09,43.7 L148.17,46.39 L148.25,49.21 L148.32,52.1 L148.4,55 L148.47,58.04 L148.53,61.33 L148.58,64.79 L148.63,68.33 L148.68,71.85 L148.74,75.28 L148.81,78.52 L148.9,81.5 L149,84.13 L149.1,86.46 L149.22,88.6 L149.34,90.64 L149.47,92.7 L149.63,94.88 L149.8,97.28 L150,100 L150.23,103.14 L150.51,106.63 L150.81,110.35 L151.12,114.18 L151.44,118 L151.75,121.7 L152.04,125.14 L152.3,128.2 L152.53,130.94 L152.73,133.48 L152.91,135.83 L153.09,138.03 L153.26,140.06 L153.45,141.96 L153.66,143.74 L153.9,145.4 L154.17,146.91 L154.46,148.25 L154.77,149.44 L155.09,150.49 L155.42,151.45 L155.75,152.34 L156.08,153.18 L156.4,154 L156.71,154.77 L157.02,155.46 L157.33,156.07 L157.64,156.62 L157.95,157.13 L158.28,157.6 L158.63,158.06 L159,158.5 L159.39,158.94 L159.81,159.38 L160.25,159.8 L160.69,160.18 L161.15,160.52 L161.6,160.79 L162.06,160.99 L162.5,161.1 L162.93,161.1 L163.36,160.99 L163.79,160.8 L164.22,160.56 L164.65,160.28 L165.09,159.99 L165.54,159.72 L166,159.5 L166.48,159.29 L166.96,159.05 L167.46,158.79 L167.97,158.55 L168.48,158.33 L168.99,158.15 L169.5,158.04 L170,158 L170.5,158.05 L171,158.16 L171.5,158.34 L172,158.56 L172.5,158.81 L173,159.07 L173.5,159.34 L174,159.6 L174.5,159.88 L175,160.22 L175.5,160.58 L176,160.95 L176.5,161.3 L177,161.61 L177.5,161.85 L178,162 L178.49,162.05 L178.95,162.03 L179.41,161.93 L179.88,161.8 L180.35,161.64 L180.86,161.47 L181.4,161.32 L182,161.2 L182.64,161.1 L183.33,160.99 L184.04,160.88 L184.79,160.78 L185.56,160.67 L186.35,160.57 L187.17,160.48 L188,160.4 L188.88,160.32 L189.82,160.25 L190.8,160.18 L191.79,160.11 L192.77,160.06 L193.71,160.02 L194.6,160 L195.4,160 L196.11,160.03 L196.75,160.07 L197.33,160.14 L197.88,160.22 L198.4,160.31 L198.92,160.41 L199.44,160.5 L200,160.6 L200.56,160.69 L201.11,160.76 L201.65,160.84 L202.19,160.92 L202.74,161.02 L203.32,161.14 L203.94,161.3 L204.6,161.5 L205.31,161.75 L206.05,162.05 L206.82,162.38 L207.62,162.73 L208.44,163.1 L209.28,163.48 L210.14,163.85 L211,164.2 L211.89,164.55 L212.82,164.92 L213.78,165.29 L214.74,165.66 L215.71,166.02 L216.67,166.37 L217.6,166.7 L218.5,167 L219.36,167.28 L220.18,167.53 L220.99,167.77 L221.78,168 L222.57,168.21 L223.36,168.42 L224.17,168.61 L225,168.8 L225.84,168.98 L226.69,169.15 L227.54,169.3 L228.41,169.45 L229.28,169.59 L230.17,169.73 L231.07,169.86 L232,170 L232.95,170.14 L233.91,170.27 L234.88,170.4 L235.88,170.53 L236.88,170.65 L237.91,170.77 L238.95,170.89 L240,171 L241.08,171.11 L242.18,171.22 L243.3,171.33 L244.44,171.43 L245.58,171.53 L246.73,171.63 L247.87,171.72 L249,171.8 L250.14,171.88 L251.3,171.95 L252.46,172.02 L253.62,172.09 L254.77,172.15 L255.89,172.2 L256.97,172.25 L258,172.3 L259.02,172.34 L260.05,172.38 L261.08,172.41 L262.06,172.43 L262.98,172.45 L263.79,172.47 L264.47,172.49 L265,172.5 L265,174.3 L130,174.3 Z" fill="url(#sp0)"/>
<line x1="146.4" y1="22.5" x2="146.4" y2="174.3" stroke="#e070f0" stroke-width="1.0" opacity="0.35"/>
<line x1="22.5" y1="22.5" x2="22.5" y2="174.8" stroke="#7e7e7e" stroke-width="1"/>
<line x1="20.5" y1="174.3" x2="317.5" y2="174.3" stroke="#7a7a7a" stroke-width="1"/>
<line x1="34.5" y1="174.3" x2="34.5" y2="176.5" stroke="#666" stroke-width="1"/>
<line x1="62.5" y1="174.3" x2="62.5" y2="176.5" stroke="#666" stroke-width="1"/>
<line x1="90.5" y1="174.3" x2="90.5" y2="176.5" stroke="#666" stroke-width="1"/>
<line x1="119.5" y1="174.3" x2="119.5" y2="176.5" stroke="#666" stroke-width="1"/>
<line x1="147.5" y1="174.3" x2="147.5" y2="176.5" stroke="#666" stroke-width="1"/>
<line x1="175.5" y1="174.3" x2="175.5" y2="176.5" stroke="#666" stroke-width="1"/>
<line x1="204.5" y1="174.3" x2="204.5" y2="176.5" stroke="#666" stroke-width="1"/>
<line x1="232.5" y1="174.3" x2="232.5" y2="176.5" stroke="#666" stroke-width="1"/>
<line x1="260.5" y1="174.3" x2="260.5" y2="176.5" stroke="#666" stroke-width="1"/>
<line x1="289.5" y1="174.3" x2="289.5" y2="176.5" stroke="#666" stroke-width="1"/>
<text x="34" y="179.3" class="tk" text-anchor="middle">200</text>
<text x="62.35" y="179.3" class="tk" text-anchor="middle">250</text>
<text x="90.7" y="179.3" class="tk" text-anchor="middle">300</text>
<text x="119.05" y="179.3" class="tk" text-anchor="middle">350</text>
<text x="147.4" y="179.3" class="tk" text-anchor="middle">400</text>
<text x="175.75" y="179.3" class="tk" text-anchor="middle">450</text>
<text x="204.1" y="179.3" class="tk" text-anchor="middle">500</text>
<text x="232.45" y="179.3" class="tk" text-anchor="middle">550</text>
<text x="260.8" y="179.3" class="tk" text-anchor="middle">600</text>
<text x="289.15" y="179.3" class="tk" text-anchor="middle">650</text>
<text x="20" y="37" class="tk" text-anchor="end">15000</text>
<text x="20" y="83" class="tk" text-anchor="end">10000</text>
<text x="20" y="129.5" class="tk" text-anchor="end">5000</text>
<text x="20" y="175.8" class="tk" text-anchor="end">0</text>
<text x="219" y="186.6" class="at" text-anchor="middle">Wave length (nm)</text>
<text transform="translate(7.2,106.4) rotate(-90)" class="ax" text-anchor="middle">Intensity (count)</text>
<text class="tt" transform="translate(0.69,18.9) scale(0.895,1)">LED96-395F</text>
<text class="tc" transform="translate(86.3,18.9)">适用于</text>
<text class="tt" transform="translate(127.64,18.9) scale(0.96,1)">385-405nm</text>
<rect x="327" y="20.3" width="316" height="167.7" fill="#efefef"/>
<rect x="347.7" y="22.8" width="295.3" height="149.5" fill="#fff"/>
<line x1="347.7" y1="36.5" x2="643" y2="36.5" class="gd"/>
<line x1="347.7" y1="81.5" x2="643" y2="81.5" class="gd"/>
<line x1="347.7" y1="126.5" x2="643" y2="126.5" class="gd"/>
<line x1="359.5" y1="22.8" x2="359.5" y2="172.3" class="gd"/>
<line x1="388.5" y1="22.8" x2="388.5" y2="172.3" class="gd"/>
<line x1="416.5" y1="22.8" x2="416.5" y2="172.3" class="gd"/>
<line x1="444.5" y1="22.8" x2="444.5" y2="172.3" class="gd"/>
<line x1="473.5" y1="22.8" x2="473.5" y2="172.3" class="gd"/>
<line x1="501.5" y1="22.8" x2="501.5" y2="172.3" class="gd"/>
<line x1="530.5" y1="22.8" x2="530.5" y2="172.3" class="gd"/>
<line x1="558.5" y1="22.8" x2="558.5" y2="172.3" class="gd"/>
<line x1="587.5" y1="22.8" x2="587.5" y2="172.3" class="gd"/>
<line x1="615.5" y1="22.8" x2="615.5" y2="172.3" class="gd"/>
<line x1="477.4" y1="22.8" x2="477.4" y2="172.3" stroke="#e2a2ee" stroke-width="1.2"/>
<path d="M348.7,171.2 L457.5,169.89 L457.75,169.89 L458,169.89 L458.25,169.89 L458.5,169.89 L458.75,169.87 L459,169.81 L459.25,169.71 L459.5,169.58 L459.75,169.4 L460,169.2 L460.25,168.95 L460.5,168.67 L460.75,168.36 L461,168.02 L461.25,167.64 L461.5,167.23 L461.75,166.8 L462,166.33 L462.25,165.84 L462.5,165.32 L462.75,164.77 L463,164.19 L463.25,163.6 L463.5,162.97 L463.75,162.33 L464,161.66 L464.25,160.97 L464.5,160.26 L464.75,159.53 L465,158.79 L465.25,158.02 L465.5,157.24 L465.75,156.44 L466,155.55 L466.25,154.43 L466.5,153.09 L466.75,151.56 L467,149.84 L467.25,147.97 L467.5,145.95 L467.75,143.81 L468,141.56 L468.25,139.23 L468.5,136.83 L468.75,134.39 L469,131.91 L469.25,129.43 L469.5,126.96 L469.75,124.36 L470,121.52 L470.25,118.46 L470.5,115.24 L470.75,111.89 L471,108.43 L471.25,104.91 L471.5,101.37 L471.75,97.84 L472,94.36 L472.25,90.97 L472.5,87.7 L472.75,84.58 L473,81.66 L473.25,78.87 L473.5,76.12 L473.75,73.39 L474,70.71 L474.25,68.06 L474.5,65.45 L474.75,62.89 L475,60.37 L475.25,57.89 L475.5,55.46 L475.75,53.08 L476,50.75 L476.25,48.47 L476.5,46.24 L476.75,44.07 L477,41.95 L477.25,40.59 L477.5,42.08 L477.75,43.63 L478,45.23 L478.25,46.89 L478.5,48.6 L478.75,50.36 L479,52.16 L479.25,54.02 L479.5,55.92 L479.75,57.86 L480,59.85 L480.25,61.87 L480.5,63.94 L480.75,66.04 L481,68.18 L481.25,70.35 L481.5,72.56 L481.75,74.79 L482,77.05 L482.25,79.35 L482.5,81.66 L482.75,84.11 L483,86.76 L483.25,89.59 L483.5,92.55 L483.75,95.62 L484,98.77 L484.25,101.96 L484.5,105.15 L484.75,108.32 L485,111.43 L485.25,114.44 L485.5,117.33 L485.75,120.06 L486,122.59 L486.25,124.91 L486.5,126.96 L486.75,128.85 L487,130.72 L487.25,132.56 L487.5,134.37 L487.75,136.14 L488,137.87 L488.25,139.55 L488.5,141.18 L488.75,142.76 L489,144.29 L489.25,145.76 L489.5,147.16 L489.75,148.5 L490,149.77 L490.25,150.97 L490.5,152.09 L490.75,153.13 L491,154.08 L491.25,154.95 L491.5,155.72 L491.75,156.41 L492,157.06 L492.25,157.7 L492.5,158.33 L492.75,158.96 L493,159.57 L493.25,160.18 L493.5,160.77 L493.75,161.35 L494,161.92 L494.25,162.48 L494.5,163.02 L494.75,163.55 L495,164.07 L495.25,164.56 L495.5,165.04 L495.75,165.5 L496,165.95 L496.25,166.37 L496.5,166.77 L496.75,167.16 L497,167.52 L497.25,167.86 L497.5,168.17 L497.75,168.46 L498,168.73 L498.25,168.97 L498.5,169.19 L498.75,169.37 L499,169.53 L499.25,169.67 L499.5,169.77 L499.75,169.84 L500,169.88 L500.25,169.89 L500.5,169.89 L500.75,169.89 L501,169.89 L643,171.2" fill="none" stroke="#ee939b" stroke-width="1.15" stroke-linejoin="round"/>
<line x1="347.7" y1="22.8" x2="347.7" y2="172.8" stroke="#7e7e7e" stroke-width="1"/>
<line x1="345.7" y1="172.3" x2="643" y2="172.3" stroke="#7a7a7a" stroke-width="1"/>
<line x1="359.5" y1="172.3" x2="359.5" y2="174.5" stroke="#666" stroke-width="1"/>
<line x1="388.5" y1="172.3" x2="388.5" y2="174.5" stroke="#666" stroke-width="1"/>
<line x1="416.5" y1="172.3" x2="416.5" y2="174.5" stroke="#666" stroke-width="1"/>
<line x1="444.5" y1="172.3" x2="444.5" y2="174.5" stroke="#666" stroke-width="1"/>
<line x1="473.5" y1="172.3" x2="473.5" y2="174.5" stroke="#666" stroke-width="1"/>
<line x1="501.5" y1="172.3" x2="501.5" y2="174.5" stroke="#666" stroke-width="1"/>
<line x1="530.5" y1="172.3" x2="530.5" y2="174.5" stroke="#666" stroke-width="1"/>
<line x1="558.5" y1="172.3" x2="558.5" y2="174.5" stroke="#666" stroke-width="1"/>
<line x1="587.5" y1="172.3" x2="587.5" y2="174.5" stroke="#666" stroke-width="1"/>
<line x1="615.5" y1="172.3" x2="615.5" y2="174.5" stroke="#666" stroke-width="1"/>
<text x="359.6" y="177.3" class="tk" text-anchor="middle">200</text>
<text x="388.03" y="177.3" class="tk" text-anchor="middle">250</text>
<text x="416.46" y="177.3" class="tk" text-anchor="middle">300</text>
<text x="444.89" y="177.3" class="tk" text-anchor="middle">350</text>
<text x="473.32" y="177.3" class="tk" text-anchor="middle">400</text>
<text x="501.75" y="177.3" class="tk" text-anchor="middle">450</text>
<text x="530.18" y="177.3" class="tk" text-anchor="middle">500</text>
<text x="558.61" y="177.3" class="tk" text-anchor="middle">550</text>
<text x="587.04" y="177.3" class="tk" text-anchor="middle">600</text>
<text x="615.47" y="177.3" class="tk" text-anchor="middle">650</text>
<text x="345.2" y="37.5" class="tk" text-anchor="end">6000</text>
<text x="345.2" y="83" class="tk" text-anchor="end">4000</text>
<text x="345.2" y="128.5" class="tk" text-anchor="end">2000</text>
<text x="345.2" y="173.8" class="tk" text-anchor="end">0</text>
<text x="545" y="184.6" class="at" text-anchor="middle">波长 (nm)</text>
<text transform="translate(332.2,105.55) rotate(-90)" class="ax" text-anchor="middle">强度 (count)</text>
<text class="tt" transform="translate(334.39,17.6) scale(0.895,1)">LED96-405</text>
<text class="tc" transform="translate(413.1,17.6)">适用于</text>
<text class="tt" transform="translate(454.34,17.6) scale(0.96,1)">395-415nm</text>
<rect x="0" y="186.1" width="165" height="3" fill="#fff"/>
<rect x="0" y="207.5" width="316" height="168.5" fill="#efefef"/>
<rect x="22" y="208" width="294" height="150.6" fill="#fff"/>
<line x1="22" y1="244.5" x2="316" y2="244.5" class="gd"/>
<line x1="22" y1="301.5" x2="316" y2="301.5" class="gd"/>
<line x1="34.5" y1="208" x2="34.5" y2="358.6" class="gd"/>
<line x1="64.5" y1="208" x2="64.5" y2="358.6" class="gd"/>
<line x1="94.5" y1="208" x2="94.5" y2="358.6" class="gd"/>
<line x1="124.5" y1="208" x2="124.5" y2="358.6" class="gd"/>
<line x1="154.5" y1="208" x2="154.5" y2="358.6" class="gd"/>
<line x1="184.5" y1="208" x2="184.5" y2="358.6" class="gd"/>
<line x1="215.5" y1="208" x2="215.5" y2="358.6" class="gd"/>
<line x1="245.5" y1="208" x2="245.5" y2="358.6" class="gd"/>
<line x1="275.5" y1="208" x2="275.5" y2="358.6" class="gd"/>
<line x1="305.5" y1="208" x2="305.5" y2="358.6" class="gd"/>
<line x1="104" y1="208" x2="104" y2="358.6" stroke="#e6b2ef" stroke-width="2.0"/>
<path d="M23,357 L143,357 L143.25,357 L143.5,357 L143.75,357 L144,357 L144.25,356.98 L144.5,356.91 L144.75,356.8 L145,356.65 L145.25,356.46 L145.5,356.24 L145.75,355.98 L146,355.69 L146.25,355.37 L146.5,355.02 L146.75,354.64 L147,354.24 L147.25,353.82 L147.5,353.38 L147.75,352.92 L148,352.44 L148.25,351.94 L148.5,351.44 L148.75,350.92 L149,350.4 L149.25,349.87 L149.5,349.33 L149.75,348.75 L150,348.12 L150.25,347.43 L150.5,346.68 L150.75,345.86 L151,344.98 L151.25,344.02 L151.5,342.98 L151.75,341.86 L152,340.65 L152.25,339.34 L152.5,337.95 L152.75,336.45 L153,334.85 L153.25,333.12 L153.5,330.75 L153.75,327.64 L154,323.95 L154.25,319.84 L154.5,315.47 L154.75,311.02 L155,306.65 L155.25,302.53 L155.5,298.57 L155.75,294.38 L156,290.01 L156.25,285.51 L156.5,280.94 L156.75,276.35 L157,271.8 L157.25,267.36 L157.5,263.07 L157.75,258.99 L158,255.18 L158.25,251.69 L158.5,248.59 L158.75,245.93 L159,243.72 L159.25,241.64 L159.5,239.64 L159.75,237.72 L160,235.91 L160.25,234.24 L160.5,232.73 L160.75,231.39 L161,230.26 L161.25,229.35 L161.5,228.69 L161.75,228.56 L162,228.88 L162.25,229.48 L162.5,230.33 L162.75,231.4 L163,232.67 L163.25,234.11 L163.5,235.7 L163.75,237.4 L164,239.21 L164.25,241.08 L164.5,243.01 L164.75,244.97 L165,247.42 L165.25,250.52 L165.5,254.16 L165.75,258.26 L166,262.7 L166.25,267.4 L166.5,272.25 L166.75,277.17 L167,282.04 L167.25,286.77 L167.5,291.26 L167.75,295.42 L168,299.14 L168.25,302.35 L168.5,305.37 L168.75,308.37 L169,311.32 L169.25,314.21 L169.5,317.02 L169.75,319.71 L170,322.27 L170.25,324.66 L170.5,326.88 L170.75,328.9 L171,330.68 L171.25,332.22 L171.5,333.48 L171.75,334.58 L172,335.63 L172.25,336.64 L172.5,337.61 L172.75,338.54 L173,339.42 L173.25,340.27 L173.5,341.08 L173.75,341.85 L174,342.58 L174.25,343.28 L174.5,343.95 L174.75,344.58 L175,345.18 L175.25,345.75 L175.5,346.29 L175.75,346.81 L176,347.29 L176.25,347.75 L176.5,348.18 L176.75,348.59 L177,348.98 L177.25,349.34 L177.5,349.68 L177.75,350.02 L178,350.36 L178.25,350.69 L178.5,351.02 L178.75,351.34 L179,351.66 L179.25,351.98 L179.5,352.29 L179.75,352.6 L180,352.9 L180.25,353.19 L180.5,353.48 L180.75,353.75 L181,354.02 L181.25,354.29 L181.5,354.54 L181.75,354.78 L182,355.01 L182.25,355.24 L182.5,355.45 L182.75,355.65 L183,355.84 L183.25,356.01 L183.5,356.18 L183.75,356.33 L184,356.46 L184.25,356.59 L184.5,356.69 L184.75,356.78 L185,356.86 L185.25,356.92 L185.5,356.96 L185.75,356.99 L186,357 L186.25,357 L186.5,357 L186.75,357 L187,357 L316,357" fill="none" stroke="#ee939b" stroke-width="1.15" stroke-linejoin="round"/>
<line x1="22" y1="208" x2="22" y2="359.1" stroke="#7e7e7e" stroke-width="1"/>
<line x1="20" y1="358.6" x2="316" y2="358.6" stroke="#7a7a7a" stroke-width="1"/>
<line x1="34.5" y1="358.6" x2="34.5" y2="360.8" stroke="#666" stroke-width="1"/>
<line x1="64.5" y1="358.6" x2="64.5" y2="360.8" stroke="#666" stroke-width="1"/>
<line x1="94.5" y1="358.6" x2="94.5" y2="360.8" stroke="#666" stroke-width="1"/>
<line x1="124.5" y1="358.6" x2="124.5" y2="360.8" stroke="#666" stroke-width="1"/>
<line x1="154.5" y1="358.6" x2="154.5" y2="360.8" stroke="#666" stroke-width="1"/>
<line x1="184.5" y1="358.6" x2="184.5" y2="360.8" stroke="#666" stroke-width="1"/>
<line x1="215.5" y1="358.6" x2="215.5" y2="360.8" stroke="#666" stroke-width="1"/>
<line x1="245.5" y1="358.6" x2="245.5" y2="360.8" stroke="#666" stroke-width="1"/>
<line x1="275.5" y1="358.6" x2="275.5" y2="360.8" stroke="#666" stroke-width="1"/>
<line x1="305.5" y1="358.6" x2="305.5" y2="360.8" stroke="#666" stroke-width="1"/>
<text x="34.8" y="363.6" class="tk" text-anchor="middle">200</text>
<text x="64.84" y="363.6" class="tk" text-anchor="middle">250</text>
<text x="94.88" y="363.6" class="tk" text-anchor="middle">300</text>
<text x="124.92" y="363.6" class="tk" text-anchor="middle">350</text>
<text x="154.96" y="363.6" class="tk" text-anchor="middle">400</text>
<text x="185" y="363.6" class="tk" text-anchor="middle">450</text>
<text x="215.04" y="363.6" class="tk" text-anchor="middle">500</text>
<text x="245.08" y="363.6" class="tk" text-anchor="middle">550</text>
<text x="275.12" y="363.6" class="tk" text-anchor="middle">600</text>
<text x="305.16" y="363.6" class="tk" text-anchor="middle">650</text>
<text x="19.5" y="246.5" class="tk" text-anchor="end">4000</text>
<text x="19.5" y="303.1" class="tk" text-anchor="end">2000</text>
<text x="19.5" y="360.1" class="tk" text-anchor="end">0</text>
<text x="230" y="370.9" class="at" text-anchor="middle">波长 (nm)</text>
<text transform="translate(5.2,291.3) rotate(-90)" class="ax" text-anchor="middle">强度 (count)</text>
<text class="tt" transform="translate(4.99,201.6) scale(0.895,1)">LED96-410</text>
<text class="tc" transform="translate(83.7,201.6)">适用于</text>
<text class="tt" transform="translate(124.94,201.6) scale(0.96,1)">405-415nm</text>
<rect x="326" y="205.5" width="315.5" height="168" fill="#efefef"/>
<rect x="346.5" y="207.8" width="295" height="152.4" fill="#fff"/>
<line x1="346.5" y1="221.5" x2="641.5" y2="221.5" class="gd"/>
<line x1="346.5" y1="267.5" x2="641.5" y2="267.5" class="gd"/>
<line x1="346.5" y1="314.5" x2="641.5" y2="314.5" class="gd"/>
<line x1="358.5" y1="207.8" x2="358.5" y2="360.2" class="gd"/>
<line x1="387.5" y1="207.8" x2="387.5" y2="360.2" class="gd"/>
<line x1="416.5" y1="207.8" x2="416.5" y2="360.2" class="gd"/>
<line x1="444.5" y1="207.8" x2="444.5" y2="360.2" class="gd"/>
<line x1="473.5" y1="207.8" x2="473.5" y2="360.2" class="gd"/>
<line x1="502.5" y1="207.8" x2="502.5" y2="360.2" class="gd"/>
<line x1="531.5" y1="207.8" x2="531.5" y2="360.2" class="gd"/>
<line x1="560.5" y1="207.8" x2="560.5" y2="360.2" class="gd"/>
<line x1="589.5" y1="207.8" x2="589.5" y2="360.2" class="gd"/>
<line x1="618.5" y1="207.8" x2="618.5" y2="360.2" class="gd"/>
<line x1="481.8" y1="207.8" x2="481.8" y2="360.2" stroke="#e2a6ee" stroke-width="1.8"/>
<path d="M347.5,359 L463,359 L463.25,359 L463.5,359 L463.75,359 L464,359 L464.25,358.99 L464.5,358.96 L464.75,358.91 L465,358.85 L465.25,358.76 L465.5,358.66 L465.75,358.53 L466,358.4 L466.25,358.24 L466.5,358.07 L466.75,357.88 L467,357.67 L467.25,357.45 L467.5,357.22 L467.75,356.97 L468,356.7 L468.25,356.42 L468.5,356.12 L468.75,355.82 L469,355.5 L469.25,355.16 L469.5,354.8 L469.75,354.28 L470,353.59 L470.25,352.72 L470.5,351.71 L470.75,350.55 L471,349.27 L471.25,347.86 L471.5,346.36 L471.75,344.75 L472,343.07 L472.25,341.32 L472.5,339.51 L472.75,337.57 L473,335.21 L473.25,332.46 L473.5,329.4 L473.75,326.11 L474,322.65 L474.25,319.1 L474.5,315.55 L474.75,311.95 L475,308.02 L475.25,303.83 L475.5,299.52 L475.75,295.22 L476,291.05 L476.25,287.14 L476.5,283.6 L476.75,280.22 L477,276.96 L477.25,273.87 L477.5,270.98 L477.75,268.34 L478,265.9 L478.25,263.49 L478.5,261.14 L478.75,258.83 L479,256.6 L479.25,254.43 L479.5,252.34 L479.75,250.35 L480,248.44 L480.25,246.65 L480.5,244.97 L480.75,243.41 L481,241.99 L481.25,240.7 L481.5,240.52 L481.75,241.93 L482,243.5 L482.25,245.22 L482.5,247.08 L482.75,249.07 L483,251.18 L483.25,253.4 L483.5,255.71 L483.75,258.11 L484,260.59 L484.25,263.13 L484.5,265.73 L484.75,268.39 L485,271.3 L485.25,274.5 L485.5,277.91 L485.75,281.44 L486,284.98 L486.25,288.74 L486.5,292.85 L486.75,297.14 L487,301.42 L487.25,305.53 L487.5,309.29 L487.75,312.52 L488,315.11 L488.25,317.48 L488.5,319.75 L488.75,321.9 L489,323.96 L489.25,325.91 L489.5,327.75 L489.75,329.49 L490,331.13 L490.25,332.66 L490.5,334.09 L490.75,335.41 L491,336.64 L491.25,337.75 L491.5,338.77 L491.75,339.72 L492,340.65 L492.25,341.56 L492.5,342.44 L492.75,343.29 L493,344.12 L493.25,344.93 L493.5,345.71 L493.75,346.47 L494,347.19 L494.25,347.9 L494.5,348.57 L494.75,349.22 L495,349.84 L495.25,350.43 L495.5,351 L495.75,351.54 L496,352.05 L496.25,352.53 L496.5,352.98 L496.75,353.4 L497,353.79 L497.25,354.15 L497.5,354.49 L497.75,354.79 L498,355.06 L498.25,355.33 L498.5,355.59 L498.75,355.85 L499,356.1 L499.25,356.35 L499.5,356.6 L499.75,356.83 L500,357.06 L500.25,357.28 L500.5,357.49 L500.75,357.69 L501,357.88 L501.25,358.06 L501.5,358.22 L501.75,358.37 L502,358.51 L502.25,358.63 L502.5,358.74 L502.75,358.83 L503,358.9 L503.25,358.95 L503.5,358.99 L503.75,359 L504,359 L504.25,359 L504.5,359 L504.75,359 L641.5,359" fill="none" stroke="#ee939b" stroke-width="1.15" stroke-linejoin="round"/>
<line x1="346.5" y1="207.8" x2="346.5" y2="360.7" stroke="#7e7e7e" stroke-width="1"/>
<line x1="344.5" y1="360.2" x2="641.5" y2="360.2" stroke="#7a7a7a" stroke-width="1"/>
<line x1="358.5" y1="360.2" x2="358.5" y2="362.4" stroke="#666" stroke-width="1"/>
<line x1="387.5" y1="360.2" x2="387.5" y2="362.4" stroke="#666" stroke-width="1"/>
<line x1="416.5" y1="360.2" x2="416.5" y2="362.4" stroke="#666" stroke-width="1"/>
<line x1="444.5" y1="360.2" x2="444.5" y2="362.4" stroke="#666" stroke-width="1"/>
<line x1="473.5" y1="360.2" x2="473.5" y2="362.4" stroke="#666" stroke-width="1"/>
<line x1="502.5" y1="360.2" x2="502.5" y2="362.4" stroke="#666" stroke-width="1"/>
<line x1="531.5" y1="360.2" x2="531.5" y2="362.4" stroke="#666" stroke-width="1"/>
<line x1="560.5" y1="360.2" x2="560.5" y2="362.4" stroke="#666" stroke-width="1"/>
<line x1="589.5" y1="360.2" x2="589.5" y2="362.4" stroke="#666" stroke-width="1"/>
<line x1="618.5" y1="360.2" x2="618.5" y2="362.4" stroke="#666" stroke-width="1"/>
<text x="358.2" y="365.2" class="tk" text-anchor="middle">200</text>
<text x="387.1" y="365.2" class="tk" text-anchor="middle">250</text>
<text x="416" y="365.2" class="tk" text-anchor="middle">300</text>
<text x="444.9" y="365.2" class="tk" text-anchor="middle">350</text>
<text x="473.8" y="365.2" class="tk" text-anchor="middle">400</text>
<text x="502.7" y="365.2" class="tk" text-anchor="middle">450</text>
<text x="531.6" y="365.2" class="tk" text-anchor="middle">500</text>
<text x="560.5" y="365.2" class="tk" text-anchor="middle">550</text>
<text x="589.4" y="365.2" class="tk" text-anchor="middle">600</text>
<text x="618.3" y="365.2" class="tk" text-anchor="middle">650</text>
<text x="344" y="223" class="tk" text-anchor="end">6000</text>
<text x="344" y="269.2" class="tk" text-anchor="end">4000</text>
<text x="344" y="315.5" class="tk" text-anchor="end">2000</text>
<text x="344" y="361.7" class="tk" text-anchor="end">0</text>
<text x="545" y="372.5" class="at" text-anchor="middle">波长 (nm)</text>
<text transform="translate(331.2,292) rotate(-90)" class="ax" text-anchor="middle">强度 (count)</text>
<text class="tt" transform="translate(330.19,204.2) scale(0.895,1)">LED96-415</text>
<text class="tc" transform="translate(408.9,204.2)">适用于</text>
<text class="tt" transform="translate(450.14,204.2) scale(0.96,1)">410-420nm</text>
<rect x="3" y="390.5" width="315" height="167.1" fill="#efefef"/>
<rect x="23.4" y="392.8" width="294.6" height="151.7" fill="#fff"/>
<line x1="23.4" y1="406.5" x2="318" y2="406.5" class="gd"/>
<line x1="23.4" y1="452.5" x2="318" y2="452.5" class="gd"/>
<line x1="23.4" y1="498.5" x2="318" y2="498.5" class="gd"/>
<line x1="35.5" y1="392.8" x2="35.5" y2="544.5" class="gd"/>
<line x1="64.5" y1="392.8" x2="64.5" y2="544.5" class="gd"/>
<line x1="92.5" y1="392.8" x2="92.5" y2="544.5" class="gd"/>
<line x1="121.5" y1="392.8" x2="121.5" y2="544.5" class="gd"/>
<line x1="150.5" y1="392.8" x2="150.5" y2="544.5" class="gd"/>
<line x1="179.5" y1="392.8" x2="179.5" y2="544.5" class="gd"/>
<line x1="208.5" y1="392.8" x2="208.5" y2="544.5" class="gd"/>
<line x1="236.5" y1="392.8" x2="236.5" y2="544.5" class="gd"/>
<line x1="265.5" y1="392.8" x2="265.5" y2="544.5" class="gd"/>
<line x1="294.5" y1="392.8" x2="294.5" y2="544.5" class="gd"/>
<line x1="65" y1="392.8" x2="65" y2="544.5" stroke="#e09cee" stroke-width="2.0"/>
<path d="M24.4,543.5 L140,543.5 L140.25,543.5 L140.5,543.5 L140.75,543.5 L141,543.5 L141.25,543.49 L141.5,543.48 L141.75,543.45 L142,543.41 L142.25,543.35 L142.5,543.29 L142.75,543.21 L143,543.12 L143.25,543.02 L143.5,542.91 L143.75,542.79 L144,542.65 L144.25,542.5 L144.5,542.34 L144.75,542.17 L145,541.99 L145.25,541.8 L145.5,541.59 L145.75,541.37 L146,541.14 L146.25,540.9 L146.5,540.65 L146.75,540.39 L147,540.11 L147.25,539.82 L147.5,539.52 L147.75,539.21 L148,538.89 L148.25,538.56 L148.5,538.21 L148.75,537.85 L149,537.42 L149.25,536.79 L149.5,535.96 L149.75,534.95 L150,533.77 L150.25,532.44 L150.5,530.96 L150.75,529.34 L151,527.61 L151.25,525.77 L151.5,523.83 L151.75,521.37 L152,518.12 L152.25,514.31 L152.5,510.17 L152.75,505.95 L153,501.87 L153.25,498.15 L153.5,494.57 L153.75,490.99 L154,487.42 L154.25,483.89 L154.5,480.42 L154.75,477.03 L155,473.75 L155.25,470.6 L155.5,467.58 L155.75,464.67 L156,461.86 L156.25,459.12 L156.5,456.45 L156.75,453.82 L157,451.23 L157.25,448.66 L157.5,446.1 L157.75,443.56 L158,441.03 L158.25,438.52 L158.5,436.04 L158.75,433.57 L159,431.13 L159.25,428.71 L159.5,426.31 L159.75,423.94 L160,421.6 L160.25,419.29 L160.5,417.01 L160.75,414.75 L161,412.53 L161.25,410.35 L161.5,408.19 L161.75,406.08 L162,404 L162.25,405.13 L162.5,406.38 L162.75,407.76 L163,409.25 L163.25,410.85 L163.5,412.55 L163.75,414.35 L164,416.25 L164.25,418.24 L164.5,420.31 L164.75,422.46 L165,424.69 L165.25,426.99 L165.5,429.36 L165.75,431.79 L166,434.27 L166.25,436.81 L166.5,439.39 L166.75,442.01 L167,444.67 L167.25,447.36 L167.5,450.08 L167.75,452.82 L168,455.85 L168.25,459.19 L168.5,462.73 L168.75,466.36 L169,469.98 L169.25,473.75 L169.5,477.81 L169.75,482 L170,486.18 L170.25,490.2 L170.5,493.91 L170.75,497.18 L171,499.89 L171.25,502.41 L171.5,504.83 L171.75,507.16 L172,509.37 L172.25,511.48 L172.5,513.48 L172.75,515.36 L173,517.12 L173.25,518.76 L173.5,520.28 L173.75,521.67 L174,522.92 L174.25,524.05 L174.5,525.11 L174.75,526.14 L175,527.14 L175.25,528.11 L175.5,529.04 L175.75,529.95 L176,530.81 L176.25,531.64 L176.5,532.42 L176.75,533.17 L177,533.87 L177.25,534.53 L177.5,535.15 L177.75,535.71 L178,536.23 L178.25,536.7 L178.5,537.11 L178.75,537.47 L179,537.78 L179.25,538.06 L179.5,538.33 L179.75,538.6 L180,538.86 L180.25,539.11 L180.5,539.37 L180.75,539.61 L181,539.85 L181.25,540.09 L181.5,540.31 L181.75,540.54 L182,540.75 L182.25,540.96 L182.5,541.16 L182.75,541.36 L183,541.54 L183.25,541.72 L183.5,541.9 L183.75,542.06 L184,542.22 L184.25,542.37 L184.5,542.51 L184.75,542.64 L185,542.76 L185.25,542.88 L185.5,542.98 L185.75,543.08 L186,543.16 L186.25,543.24 L186.5,543.31 L186.75,543.37 L187,543.41 L187.25,543.45 L187.5,543.48 L187.75,543.49 L188,543.5 L188.25,543.5 L188.5,543.5 L188.75,543.5 L189,543.5 L318,543.5" fill="none" stroke="#ee939b" stroke-width="1.15" stroke-linejoin="round"/>
<line x1="23.4" y1="392.8" x2="23.4" y2="545" stroke="#7e7e7e" stroke-width="1"/>
<line x1="21.4" y1="544.5" x2="318" y2="544.5" stroke="#7a7a7a" stroke-width="1"/>
<line x1="35.5" y1="544.5" x2="35.5" y2="546.7" stroke="#666" stroke-width="1"/>
<line x1="64.5" y1="544.5" x2="64.5" y2="546.7" stroke="#666" stroke-width="1"/>
<line x1="92.5" y1="544.5" x2="92.5" y2="546.7" stroke="#666" stroke-width="1"/>
<line x1="121.5" y1="544.5" x2="121.5" y2="546.7" stroke="#666" stroke-width="1"/>
<line x1="150.5" y1="544.5" x2="150.5" y2="546.7" stroke="#666" stroke-width="1"/>
<line x1="179.5" y1="544.5" x2="179.5" y2="546.7" stroke="#666" stroke-width="1"/>
<line x1="208.5" y1="544.5" x2="208.5" y2="546.7" stroke="#666" stroke-width="1"/>
<line x1="236.5" y1="544.5" x2="236.5" y2="546.7" stroke="#666" stroke-width="1"/>
<line x1="265.5" y1="544.5" x2="265.5" y2="546.7" stroke="#666" stroke-width="1"/>
<line x1="294.5" y1="544.5" x2="294.5" y2="546.7" stroke="#666" stroke-width="1"/>
<text x="35.3" y="549.5" class="tk" text-anchor="middle">200</text>
<text x="64.1" y="549.5" class="tk" text-anchor="middle">250</text>
<text x="92.9" y="549.5" class="tk" text-anchor="middle">300</text>
<text x="121.7" y="549.5" class="tk" text-anchor="middle">350</text>
<text x="150.5" y="549.5" class="tk" text-anchor="middle">400</text>
<text x="179.3" y="549.5" class="tk" text-anchor="middle">450</text>
<text x="208.1" y="549.5" class="tk" text-anchor="middle">500</text>
<text x="236.9" y="549.5" class="tk" text-anchor="middle">550</text>
<text x="265.7" y="549.5" class="tk" text-anchor="middle">600</text>
<text x="294.5" y="549.5" class="tk" text-anchor="middle">650</text>
<text x="20.9" y="407.5" class="tk" text-anchor="end">6000</text>
<text x="20.9" y="453.7" class="tk" text-anchor="end">4000</text>
<text x="20.9" y="500.3" class="tk" text-anchor="end">2000</text>
<text x="20.9" y="546" class="tk" text-anchor="end">0</text>
<text x="223" y="556.8" class="at" text-anchor="middle">波长 (nm)</text>
<text transform="translate(8.2,476.65) rotate(-90)" class="ax" text-anchor="middle">强度 (count)</text>
<text class="tt" transform="translate(3.39,388.8) scale(0.895,1)">LED96-420</text>
<text class="tc" transform="translate(82.1,388.8)">适用于</text>
<text class="tt" transform="translate(123.34,388.8) scale(0.96,1)">410-430nm</text>
<rect x="328.5" y="390.5" width="316" height="167.9" fill="#efefef"/>
<rect x="349.3" y="394.5" width="295.2" height="150.7" fill="#fff"/>
<line x1="349.3" y1="407.5" x2="644.5" y2="407.5" class="gd"/>
<line x1="349.3" y1="453.5" x2="644.5" y2="453.5" class="gd"/>
<line x1="349.3" y1="499.5" x2="644.5" y2="499.5" class="gd"/>
<line x1="361.5" y1="394.5" x2="361.5" y2="545.2" class="gd"/>
<line x1="389.5" y1="394.5" x2="389.5" y2="545.2" class="gd"/>
<line x1="417.5" y1="394.5" x2="417.5" y2="545.2" class="gd"/>
<line x1="445.5" y1="394.5" x2="445.5" y2="545.2" class="gd"/>
<line x1="473.5" y1="394.5" x2="473.5" y2="545.2" class="gd"/>
<line x1="502.5" y1="394.5" x2="502.5" y2="545.2" class="gd"/>
<line x1="530.5" y1="394.5" x2="530.5" y2="545.2" class="gd"/>
<line x1="558.5" y1="394.5" x2="558.5" y2="545.2" class="gd"/>
<line x1="586.5" y1="394.5" x2="586.5" y2="545.2" class="gd"/>
<line x1="614.5" y1="394.5" x2="614.5" y2="545.2" class="gd"/>
<line x1="642.5" y1="394.5" x2="642.5" y2="545.2" class="gd"/>
<line x1="496" y1="394.5" x2="496" y2="545.2" stroke="#e0a0f0" stroke-width="1.3"/>
<line x1="350.3" y1="544.1" x2="644.5" y2="544.1" stroke="#e8a2a8" stroke-width="1.7"/>
<rect x="350.3" y="543.2" width="294.2" height="2" fill="url(#sp5)" opacity="0.3"/>
<path d="M474.4,544 L474.65,544 L474.9,544 L475.15,544 L475.4,544 L475.65,543.96 L475.9,543.88 L476.15,543.77 L476.4,543.63 L476.65,543.46 L476.9,543.26 L477.15,543.04 L477.4,542.79 L477.65,542.52 L477.9,542.23 L478.15,541.92 L478.4,541.6 L478.65,541.26 L478.9,540.91 L479.15,540.55 L479.4,540.18 L479.65,539.8 L479.9,539.41 L480.15,539.03 L480.4,538.63 L480.65,538.22 L480.9,537.79 L481.15,537.32 L481.4,536.83 L481.65,536.31 L481.9,535.74 L482.15,535.14 L482.4,534.5 L482.65,533.8 L482.9,533.06 L483.15,532.27 L483.4,531.42 L483.65,530.52 L483.9,529.55 L484.15,528.51 L484.4,527.41 L484.65,526.23 L484.9,524.68 L485.15,522.67 L485.4,520.28 L485.65,517.57 L485.9,514.62 L486.15,511.5 L486.4,508.27 L486.65,505 L486.9,501.76 L487.15,498.62 L487.4,495.28 L487.65,491.64 L487.9,487.82 L488.15,483.9 L488.4,479.97 L488.65,476.13 L488.9,472.48 L489.15,469.11 L489.4,466.1 L489.65,463.51 L489.9,461.15 L490.15,458.97 L490.4,456.95 L490.65,455.08 L490.9,453.32 L491.15,451.6 L491.4,449.9 L491.65,448.21 L491.9,446.55 L492.15,444.92 L492.4,443.32 L492.65,441.75 L492.9,440.22 L493.15,438.73 L493.4,437.28 L493.65,435.88 L493.9,434.53 L494.15,433.24 L494.4,432 L494.65,430.81 L494.9,429.7 L495.15,428.64 L495.4,427.66 L495.65,426.75 L495.9,425.91 L496.15,425.69 L496.4,426.25 L496.65,427.28 L496.9,428.73 L497.15,430.57 L497.4,432.77 L497.65,435.28 L497.9,438.06 L498.15,441.08 L498.4,444.29 L498.65,447.67 L498.9,451.16 L499.15,454.83 L499.4,460.65 L499.65,465.85 L499.9,469.81 L500.15,473.52 L500.4,477 L500.65,480.27 L500.9,483.33 L501.15,486.22 L501.4,488.93 L501.65,491.49 L501.9,493.91 L502.15,496.21 L502.4,498.4 L502.65,500.5 L502.9,502.55 L503.15,504.56 L503.4,506.51 L503.65,508.42 L503.9,510.26 L504.15,512.05 L504.4,513.77 L504.65,515.43 L504.9,517.01 L505.15,518.53 L505.4,519.97 L505.65,521.33 L505.9,522.61 L506.15,523.8 L506.4,524.9 L506.65,525.91 L506.9,526.84 L507.15,527.73 L507.4,528.62 L507.65,529.48 L507.9,530.32 L508.15,531.14 L508.4,531.93 L508.65,532.69 L508.9,533.43 L509.15,534.13 L509.4,534.79 L509.65,535.42 L509.9,536 L510.15,536.54 L510.4,537.04 L510.65,537.49 L510.9,537.89 L511.15,538.23 L511.4,538.52 L511.65,538.75 L511.9,538.94 L512.15,539.13 L512.4,539.31 L512.65,539.48 L512.9,539.66 L513.15,539.83 L513.4,540 L513.65,540.16 L513.9,540.32 L514.15,540.48 L514.4,540.64 L514.65,540.79 L514.9,540.94 L515.15,541.08 L515.4,541.22 L515.65,541.36 L515.9,541.5 L516.15,541.63 L516.4,541.75 L516.65,541.88 L516.9,542 L517.15,542.12 L517.4,542.23 L517.65,542.34 L517.9,542.45 L518.15,542.55 L518.4,542.65 L518.65,542.75 L518.9,542.84 L519.15,542.93 L519.4,543.02 L519.65,543.1 L519.9,543.18 L520.15,543.25 L520.4,543.32 L520.65,543.39 L520.9,543.46 L521.15,543.52 L521.4,543.57 L521.65,543.63 L521.9,543.68 L522.15,543.73 L522.4,543.77 L522.65,543.81 L522.9,543.84 L523.15,543.88 L523.4,543.9 L523.65,543.93 L523.9,543.95 L524.15,543.97 L524.4,543.98 L524.65,543.99 L524.9,544 L525.15,544 L525.4,544 L525.65,544 L525.9,544 L526.15,544 L526.15,545.2 L474.4,545.2 Z" fill="url(#sp5)"/>
<line x1="496" y1="394.5" x2="496" y2="545.2" stroke="#fff" stroke-width="1.3" opacity="0.12"/>
<line x1="349.3" y1="394.5" x2="349.3" y2="545.7" stroke="#7e7e7e" stroke-width="1"/>
<line x1="347.3" y1="545.2" x2="644.5" y2="545.2" stroke="#7a7a7a" stroke-width="1"/>
<line x1="361.5" y1="545.2" x2="361.5" y2="547.4" stroke="#666" stroke-width="1"/>
<line x1="389.5" y1="545.2" x2="389.5" y2="547.4" stroke="#666" stroke-width="1"/>
<line x1="417.5" y1="545.2" x2="417.5" y2="547.4" stroke="#666" stroke-width="1"/>
<line x1="445.5" y1="545.2" x2="445.5" y2="547.4" stroke="#666" stroke-width="1"/>
<line x1="473.5" y1="545.2" x2="473.5" y2="547.4" stroke="#666" stroke-width="1"/>
<line x1="502.5" y1="545.2" x2="502.5" y2="547.4" stroke="#666" stroke-width="1"/>
<line x1="530.5" y1="545.2" x2="530.5" y2="547.4" stroke="#666" stroke-width="1"/>
<line x1="558.5" y1="545.2" x2="558.5" y2="547.4" stroke="#666" stroke-width="1"/>
<line x1="586.5" y1="545.2" x2="586.5" y2="547.4" stroke="#666" stroke-width="1"/>
<line x1="614.5" y1="545.2" x2="614.5" y2="547.4" stroke="#666" stroke-width="1"/>
<line x1="642.5" y1="545.2" x2="642.5" y2="547.4" stroke="#666" stroke-width="1"/>
<text x="361.5" y="550.2" class="tk" text-anchor="middle">200</text>
<text x="389.6" y="550.2" class="tk" text-anchor="middle">250</text>
<text x="417.7" y="550.2" class="tk" text-anchor="middle">300</text>
<text x="445.8" y="550.2" class="tk" text-anchor="middle">350</text>
<text x="473.9" y="550.2" class="tk" text-anchor="middle">400</text>
<text x="502" y="550.2" class="tk" text-anchor="middle">450</text>
<text x="530.1" y="550.2" class="tk" text-anchor="middle">500</text>
<text x="558.2" y="550.2" class="tk" text-anchor="middle">550</text>
<text x="586.3" y="550.2" class="tk" text-anchor="middle">600</text>
<text x="614.4" y="550.2" class="tk" text-anchor="middle">650</text>
<text x="642.5" y="550.2" class="tk" text-anchor="middle">700</text>
<text x="346.8" y="409.2" class="tk" text-anchor="end">6000</text>
<text x="346.8" y="455.1" class="tk" text-anchor="end">4000</text>
<text x="346.8" y="500.7" class="tk" text-anchor="end">2000</text>
<text x="346.8" y="546.7" class="tk" text-anchor="end">0</text>
<text x="545" y="557.5" class="at" text-anchor="middle">波长 (nm)</text>
<text transform="translate(333.7,477.85) rotate(-90)" class="ax" text-anchor="middle">强度 (count)</text>
<text class="tt" transform="translate(330.19,387.6) scale(0.895,1)">LED96-440</text>
<text class="tc" transform="translate(408.9,387.6)">适用于</text>
<text class="tt" transform="translate(450.14,387.6) scale(0.96,1)">430-450nm</text>
<rect x="2.5" y="571.7" width="315" height="168.3" fill="#efefef"/>
<rect x="23.4" y="575.4" width="293.6" height="150.1" fill="#fff"/>
<line x1="23.4" y1="588.5" x2="317" y2="588.5" class="gd"/>
<line x1="23.4" y1="633.5" x2="317" y2="633.5" class="gd"/>
<line x1="23.4" y1="679.5" x2="317" y2="679.5" class="gd"/>
<line x1="35.5" y1="575.4" x2="35.5" y2="725.5" class="gd"/>
<line x1="63.5" y1="575.4" x2="63.5" y2="725.5" class="gd"/>
<line x1="91.5" y1="575.4" x2="91.5" y2="725.5" class="gd"/>
<line x1="119.5" y1="575.4" x2="119.5" y2="725.5" class="gd"/>
<line x1="147.5" y1="575.4" x2="147.5" y2="725.5" class="gd"/>
<line x1="175.5" y1="575.4" x2="175.5" y2="725.5" class="gd"/>
<line x1="203.5" y1="575.4" x2="203.5" y2="725.5" class="gd"/>
<line x1="232.5" y1="575.4" x2="232.5" y2="725.5" class="gd"/>
<line x1="260.5" y1="575.4" x2="260.5" y2="725.5" class="gd"/>
<line x1="288.5" y1="575.4" x2="288.5" y2="725.5" class="gd"/>
<line x1="316.5" y1="575.4" x2="316.5" y2="725.5" class="gd"/>
<line x1="175.6" y1="575.4" x2="175.6" y2="725.5" stroke="#e0a0f0" stroke-width="1.3"/>
<line x1="24.4" y1="724.4" x2="317" y2="724.4" stroke="#e8a2a8" stroke-width="1.7"/>
<rect x="24.4" y="723.5" width="292.6" height="2" fill="url(#sp6)" opacity="0.3"/>
<path d="M151.3,724.5 L151.55,724.5 L151.8,724.5 L152.05,724.5 L152.3,724.5 L152.55,724.49 L152.8,724.45 L153.05,724.39 L153.3,724.3 L153.55,724.19 L153.8,724.06 L154.05,723.91 L154.3,723.74 L154.55,723.56 L154.8,723.35 L155.05,723.13 L155.3,722.9 L155.55,722.64 L155.8,722.38 L156.05,722.11 L156.3,721.82 L156.55,721.52 L156.8,721.21 L157.05,720.9 L157.3,720.58 L157.55,720.25 L157.8,719.91 L158.05,719.58 L158.3,719.24 L158.55,718.89 L158.8,718.53 L159.05,718.13 L159.3,717.7 L159.55,717.24 L159.8,716.74 L160.05,716.21 L160.3,715.65 L160.55,715.05 L160.8,714.42 L161.05,713.74 L161.3,713.03 L161.55,712.28 L161.8,711.5 L162.05,710.67 L162.3,709.8 L162.55,708.89 L162.8,707.94 L163.05,706.95 L163.3,705.92 L163.55,704.79 L163.8,703.41 L164.05,701.78 L164.3,699.93 L164.55,697.9 L164.8,695.73 L165.05,693.44 L165.3,691.06 L165.55,688.64 L165.8,686.2 L166.05,683.77 L166.3,681.4 L166.55,679.1 L166.8,676.87 L167.05,674.66 L167.3,672.46 L167.55,670.24 L167.8,667.99 L168.05,665.68 L168.3,663.28 L168.55,660.78 L168.8,658.16 L169.05,655.39 L169.3,652.45 L169.55,649.31 L169.8,645.41 L170.05,641.01 L170.3,636.74 L170.55,633.22 L170.8,630.06 L171.05,626.93 L171.3,623.84 L171.55,620.84 L171.8,617.94 L172.05,615.18 L172.3,612.58 L172.55,610.17 L172.8,607.99 L173.05,606.05 L173.3,604.39 L173.55,603.03 L173.8,602 L174.05,601.16 L174.3,600.36 L174.55,599.66 L174.8,599.1 L175.05,598.73 L175.3,598.6 L175.55,598.75 L175.8,599.17 L176.05,599.79 L176.3,600.57 L176.55,601.45 L176.8,602.41 L177.05,603.78 L177.3,605.6 L177.55,607.8 L177.8,610.35 L178.05,613.18 L178.3,616.25 L178.55,619.49 L178.8,622.86 L179.05,626.29 L179.3,629.75 L179.55,633.18 L179.8,636.92 L180.05,641.37 L180.3,645.79 L180.55,649.41 L180.8,652.02 L181.05,654.43 L181.3,656.69 L181.55,658.81 L181.8,660.81 L182.05,662.68 L182.3,664.45 L182.55,666.13 L182.8,667.73 L183.05,669.25 L183.3,670.72 L183.55,672.15 L183.8,673.54 L184.05,674.91 L184.3,676.26 L184.55,677.62 L184.8,679 L185.05,680.39 L185.3,681.79 L185.55,683.18 L185.8,684.56 L186.05,685.94 L186.3,687.3 L186.55,688.64 L186.8,689.97 L187.05,691.28 L187.3,692.56 L187.55,693.81 L187.8,695.03 L188.05,696.22 L188.3,697.37 L188.55,698.49 L188.8,699.56 L189.05,700.58 L189.3,701.56 L189.55,702.49 L189.8,703.36 L190.05,704.18 L190.3,704.93 L190.55,705.62 L190.8,706.29 L191.05,706.95 L191.3,707.6 L191.55,708.23 L191.8,708.86 L192.05,709.47 L192.3,710.08 L192.55,710.67 L192.8,711.24 L193.05,711.81 L193.3,712.35 L193.55,712.89 L193.8,713.4 L194.05,713.9 L194.3,714.39 L194.55,714.85 L194.8,715.3 L195.05,715.72 L195.3,716.13 L195.55,716.51 L195.8,716.88 L196.05,717.22 L196.3,717.54 L196.55,717.84 L196.8,718.11 L197.05,718.36 L197.3,718.59 L197.55,718.79 L197.8,718.96 L198.05,719.12 L198.3,719.28 L198.55,719.43 L198.8,719.58 L199.05,719.73 L199.3,719.88 L199.55,720.03 L199.8,720.17 L200.05,720.32 L200.3,720.46 L200.55,720.6 L200.8,720.73 L201.05,720.87 L201.3,721 L201.55,721.13 L201.8,721.26 L202.05,721.39 L202.3,721.51 L202.55,721.63 L202.8,721.75 L203.05,721.87 L203.3,721.98 L203.55,722.1 L203.8,722.21 L204.05,722.31 L204.3,722.42 L204.55,722.52 L204.8,722.63 L205.05,722.72 L205.3,722.82 L205.55,722.91 L205.8,723 L206.05,723.09 L206.3,723.18 L206.55,723.26 L206.8,723.34 L207.05,723.42 L207.3,723.5 L207.55,723.57 L207.8,723.64 L208.05,723.71 L208.3,723.78 L208.55,723.84 L208.8,723.9 L209.05,723.96 L209.3,724.01 L209.55,724.06 L209.8,724.11 L210.05,724.16 L210.3,724.2 L210.55,724.24 L210.8,724.28 L211.05,724.31 L211.3,724.35 L211.55,724.38 L211.8,724.4 L212.05,724.42 L212.3,724.44 L212.55,724.46 L212.8,724.48 L213.05,724.49 L213.3,724.49 L213.55,724.5 L213.8,724.5 L214.05,724.5 L214.3,724.5 L214.55,724.5 L214.8,724.5 L214.8,725.5 L151.3,725.5 Z" fill="url(#sp6)"/>
<line x1="175.6" y1="575.4" x2="175.6" y2="725.5" stroke="#fff" stroke-width="1.3" opacity="0.12"/>
<line x1="23.4" y1="575.4" x2="23.4" y2="726" stroke="#7e7e7e" stroke-width="1"/>
<line x1="21.4" y1="725.5" x2="317" y2="725.5" stroke="#7a7a7a" stroke-width="1"/>
<line x1="35.5" y1="725.5" x2="35.5" y2="727.7" stroke="#666" stroke-width="1"/>
<line x1="63.5" y1="725.5" x2="63.5" y2="727.7" stroke="#666" stroke-width="1"/>
<line x1="91.5" y1="725.5" x2="91.5" y2="727.7" stroke="#666" stroke-width="1"/>
<line x1="119.5" y1="725.5" x2="119.5" y2="727.7" stroke="#666" stroke-width="1"/>
<line x1="147.5" y1="725.5" x2="147.5" y2="727.7" stroke="#666" stroke-width="1"/>
<line x1="175.5" y1="725.5" x2="175.5" y2="727.7" stroke="#666" stroke-width="1"/>
<line x1="203.5" y1="725.5" x2="203.5" y2="727.7" stroke="#666" stroke-width="1"/>
<line x1="232.5" y1="725.5" x2="232.5" y2="727.7" stroke="#666" stroke-width="1"/>
<line x1="260.5" y1="725.5" x2="260.5" y2="727.7" stroke="#666" stroke-width="1"/>
<line x1="288.5" y1="725.5" x2="288.5" y2="727.7" stroke="#666" stroke-width="1"/>
<line x1="316.5" y1="725.5" x2="316.5" y2="727.7" stroke="#666" stroke-width="1"/>
<text x="35.3" y="730.5" class="tk" text-anchor="middle">200</text>
<text x="63.4" y="730.5" class="tk" text-anchor="middle">250</text>
<text x="91.5" y="730.5" class="tk" text-anchor="middle">300</text>
<text x="119.6" y="730.5" class="tk" text-anchor="middle">350</text>
<text x="147.7" y="730.5" class="tk" text-anchor="middle">400</text>
<text x="175.8" y="730.5" class="tk" text-anchor="middle">450</text>
<text x="203.9" y="730.5" class="tk" text-anchor="middle">500</text>
<text x="232" y="730.5" class="tk" text-anchor="middle">550</text>
<text x="260.1" y="730.5" class="tk" text-anchor="middle">600</text>
<text x="288.2" y="730.5" class="tk" text-anchor="middle">650</text>
<text x="316.3" y="730.5" class="tk" text-anchor="middle">700</text>
<text x="20.9" y="589.7" class="tk" text-anchor="end">6000</text>
<text x="20.9" y="635.3" class="tk" text-anchor="end">4000</text>
<text x="20.9" y="681" class="tk" text-anchor="end">2000</text>
<text x="20.9" y="727" class="tk" text-anchor="end">0</text>
<text x="219" y="737.8" class="at" text-anchor="middle">波长 (nm)</text>
<text transform="translate(7.7,658.45) rotate(-90)" class="ax" text-anchor="middle">强度 (count)</text>
<text class="tt" transform="translate(5.69,569.7) scale(0.895,1)">LED96-450</text>
<text class="tc" transform="translate(84.4,569.7)">适用于</text>
<text class="tt" transform="translate(125.64,569.7) scale(0.96,1)">440-460nm</text>
<rect x="326" y="554.6" width="202" height="4" fill="#fff"/>
<rect x="326.8" y="572.3" width="315.2" height="168.2" fill="#efefef"/>
<rect x="346.2" y="575.5" width="295.8" height="151" fill="#fff"/>
<line x1="346.2" y1="587.5" x2="642" y2="587.5" class="gd"/>
<line x1="346.2" y1="633.5" x2="642" y2="633.5" class="gd"/>
<line x1="346.2" y1="680.5" x2="642" y2="680.5" class="gd"/>
<line x1="358.5" y1="575.5" x2="358.5" y2="726.5" class="gd"/>
<line x1="386.5" y1="575.5" x2="386.5" y2="726.5" class="gd"/>
<line x1="415.5" y1="575.5" x2="415.5" y2="726.5" class="gd"/>
<line x1="444.5" y1="575.5" x2="444.5" y2="726.5" class="gd"/>
<line x1="472.5" y1="575.5" x2="472.5" y2="726.5" class="gd"/>
<line x1="500.5" y1="575.5" x2="500.5" y2="726.5" class="gd"/>
<line x1="529.5" y1="575.5" x2="529.5" y2="726.5" class="gd"/>
<line x1="558.5" y1="575.5" x2="558.5" y2="726.5" class="gd"/>
<line x1="586.5" y1="575.5" x2="586.5" y2="726.5" class="gd"/>
<line x1="614.5" y1="575.5" x2="614.5" y2="726.5" class="gd"/>
<line x1="521.7" y1="575.5" x2="521.7" y2="726.5" stroke="#e0a0ec" stroke-width="1.6"/>
<line x1="347.2" y1="725.4" x2="642" y2="725.4" stroke="#e8a2a8" stroke-width="1.7"/>
<rect x="347.2" y="724.5" width="294.8" height="2" fill="url(#sp7)" opacity="0.3"/>
<path d="M485,725.5 L485.25,725.5 L485.5,725.5 L485.75,725.5 L486,725.5 L486.25,725.34 L486.5,725.16 L486.75,724.96 L487,724.73 L487.25,724.49 L487.5,724.22 L487.75,723.94 L488,723.64 L488.25,723.32 L488.5,722.98 L488.75,722.64 L489,722.27 L489.25,721.9 L489.5,721.52 L489.75,721.12 L490,720.72 L490.25,720.31 L490.5,719.89 L490.75,719.46 L491,719.01 L491.25,718.55 L491.5,718.06 L491.75,717.56 L492,717.04 L492.25,716.49 L492.5,715.92 L492.75,715.33 L493,714.7 L493.25,714.05 L493.5,713.36 L493.75,712.65 L494,711.9 L494.25,711.11 L494.5,710.29 L494.75,709.43 L495,708.53 L495.25,707.58 L495.5,706.6 L495.75,705.57 L496,704.43 L496.25,703.07 L496.5,701.5 L496.75,699.75 L497,697.83 L497.25,695.78 L497.5,693.6 L497.75,691.33 L498,688.97 L498.25,686.57 L498.5,684.13 L498.75,681.68 L499,679.23 L499.25,676.74 L499.5,674.18 L499.75,671.52 L500,668.75 L500.25,665.84 L500.5,662.77 L500.75,659.52 L501,656.07 L501.25,652.38 L501.5,648.35 L501.75,643.27 L502,637.81 L502.25,632.92 L502.5,628.19 L502.75,623.27 L503,618.31 L503.25,613.45 L503.5,608.84 L503.75,604.61 L504,600.92 L504.25,597.9 L504.5,595.7 L504.75,594.44 L505,593.56 L505.25,592.76 L505.5,592.04 L505.75,591.42 L506,590.93 L506.25,590.57 L506.5,590.35 L506.75,590.3 L507,590.47 L507.25,590.85 L507.5,591.41 L507.75,592.14 L508,593.01 L508.25,593.99 L508.5,595.21 L508.75,597.82 L509,601.79 L509.25,606.74 L509.5,612.27 L509.75,618 L510,623.56 L510.25,628.54 L510.5,632.57 L510.75,635.51 L511,638.11 L511.25,640.49 L511.5,642.69 L511.75,644.72 L512,646.61 L512.25,648.38 L512.5,650.06 L512.75,651.66 L513,653.2 L513.25,654.67 L513.5,656.08 L513.75,657.43 L514,658.74 L514.25,660 L514.5,661.22 L514.75,662.4 L515,663.56 L515.25,664.7 L515.5,665.81 L515.75,666.92 L516,668.01 L516.25,669.11 L516.5,670.2 L516.75,671.3 L517,672.42 L517.25,673.55 L517.5,674.71 L517.75,675.89 L518,677.11 L518.25,678.37 L518.5,679.67 L518.75,681.04 L519,682.5 L519.25,684.04 L519.5,685.66 L519.75,687.32 L520,689.02 L520.25,690.74 L520.5,692.45 L520.75,694.15 L521,695.81 L521.25,697.41 L521.5,698.94 L521.75,700.38 L522,701.71 L522.25,702.92 L522.5,703.99 L522.75,704.9 L523,705.64 L523.25,706.33 L523.5,707.01 L523.75,707.66 L524,708.3 L524.25,708.92 L524.5,709.52 L524.75,710.1 L525,710.67 L525.25,711.22 L525.5,711.75 L525.75,712.27 L526,712.77 L526.25,713.26 L526.5,713.73 L526.75,714.18 L527,714.62 L527.25,715.04 L527.5,715.45 L527.75,715.85 L528,716.23 L528.25,716.59 L528.5,716.95 L528.75,717.29 L529,717.61 L529.25,717.93 L529.5,718.23 L529.75,718.52 L530,718.8 L530.25,719.06 L530.5,719.32 L530.75,719.56 L531,719.79 L531.25,720.02 L531.5,720.23 L531.75,720.43 L532,720.64 L532.25,720.84 L532.5,721.04 L532.75,721.25 L533,721.44 L533.25,721.64 L533.5,721.84 L533.75,722.03 L534,722.22 L534.25,722.4 L534.5,722.59 L534.75,722.77 L535,722.94 L535.25,723.12 L535.5,723.29 L535.75,723.45 L536,723.61 L536.25,723.76 L536.5,723.91 L536.75,724.06 L537,724.2 L537.25,724.33 L537.5,724.46 L537.75,724.58 L538,724.69 L538.25,724.8 L538.5,724.9 L538.75,725 L539,725.08 L539.25,725.16 L539.5,725.23 L539.75,725.3 L540,725.35 L540.25,725.4 L540.5,725.44 L540.75,725.47 L541,725.49 L541.25,725.5 L541.5,725.5 L541.75,725.5 L542,725.5 L542.25,725.5 L542.25,726.5 L485,726.5 Z" fill="url(#sp7)"/>
<line x1="521.7" y1="575.5" x2="521.7" y2="726.5" stroke="#fff" stroke-width="1.6" opacity="0.12"/>
<line x1="346.2" y1="575.5" x2="346.2" y2="727" stroke="#7e7e7e" stroke-width="1"/>
<line x1="344.2" y1="726.5" x2="642" y2="726.5" stroke="#7a7a7a" stroke-width="1"/>
<line x1="358.5" y1="726.5" x2="358.5" y2="728.7" stroke="#666" stroke-width="1"/>
<line x1="386.5" y1="726.5" x2="386.5" y2="728.7" stroke="#666" stroke-width="1"/>
<line x1="415.5" y1="726.5" x2="415.5" y2="728.7" stroke="#666" stroke-width="1"/>
<line x1="444.5" y1="726.5" x2="444.5" y2="728.7" stroke="#666" stroke-width="1"/>
<line x1="472.5" y1="726.5" x2="472.5" y2="728.7" stroke="#666" stroke-width="1"/>
<line x1="500.5" y1="726.5" x2="500.5" y2="728.7" stroke="#666" stroke-width="1"/>
<line x1="529.5" y1="726.5" x2="529.5" y2="728.7" stroke="#666" stroke-width="1"/>
<line x1="558.5" y1="726.5" x2="558.5" y2="728.7" stroke="#666" stroke-width="1"/>
<line x1="586.5" y1="726.5" x2="586.5" y2="728.7" stroke="#666" stroke-width="1"/>
<line x1="614.5" y1="726.5" x2="614.5" y2="728.7" stroke="#666" stroke-width="1"/>
<text x="358.5" y="731.5" class="tk" text-anchor="middle">200</text>
<text x="387" y="731.5" class="tk" text-anchor="middle">250</text>
<text x="415.5" y="731.5" class="tk" text-anchor="middle">300</text>
<text x="444" y="731.5" class="tk" text-anchor="middle">350</text>
<text x="472.5" y="731.5" class="tk" text-anchor="middle">400</text>
<text x="501" y="731.5" class="tk" text-anchor="middle">450</text>
<text x="529.5" y="731.5" class="tk" text-anchor="middle">500</text>
<text x="558" y="731.5" class="tk" text-anchor="middle">550</text>
<text x="586.5" y="731.5" class="tk" text-anchor="middle">600</text>
<text x="615" y="731.5" class="tk" text-anchor="middle">650</text>
<text x="343.7" y="588.7" class="tk" text-anchor="end">6000</text>
<text x="343.7" y="635.3" class="tk" text-anchor="end">4000</text>
<text x="343.7" y="681.7" class="tk" text-anchor="end">2000</text>
<text x="343.7" y="728" class="tk" text-anchor="end">0</text>
<text x="545" y="738.8" class="at" text-anchor="middle">波长 (nm)</text>
<text transform="translate(332,659) rotate(-90)" class="ax" text-anchor="middle">强度 (count)</text>
<text class="tt" transform="translate(330.19,569.8) scale(0.895,1)">LED96-458</text>
<text class="tc" transform="translate(408.9,569.8)">适用于</text>
<text class="tt" transform="translate(450.14,569.8) scale(0.96,1)">450-468nm</text>
</svg></body></html>
